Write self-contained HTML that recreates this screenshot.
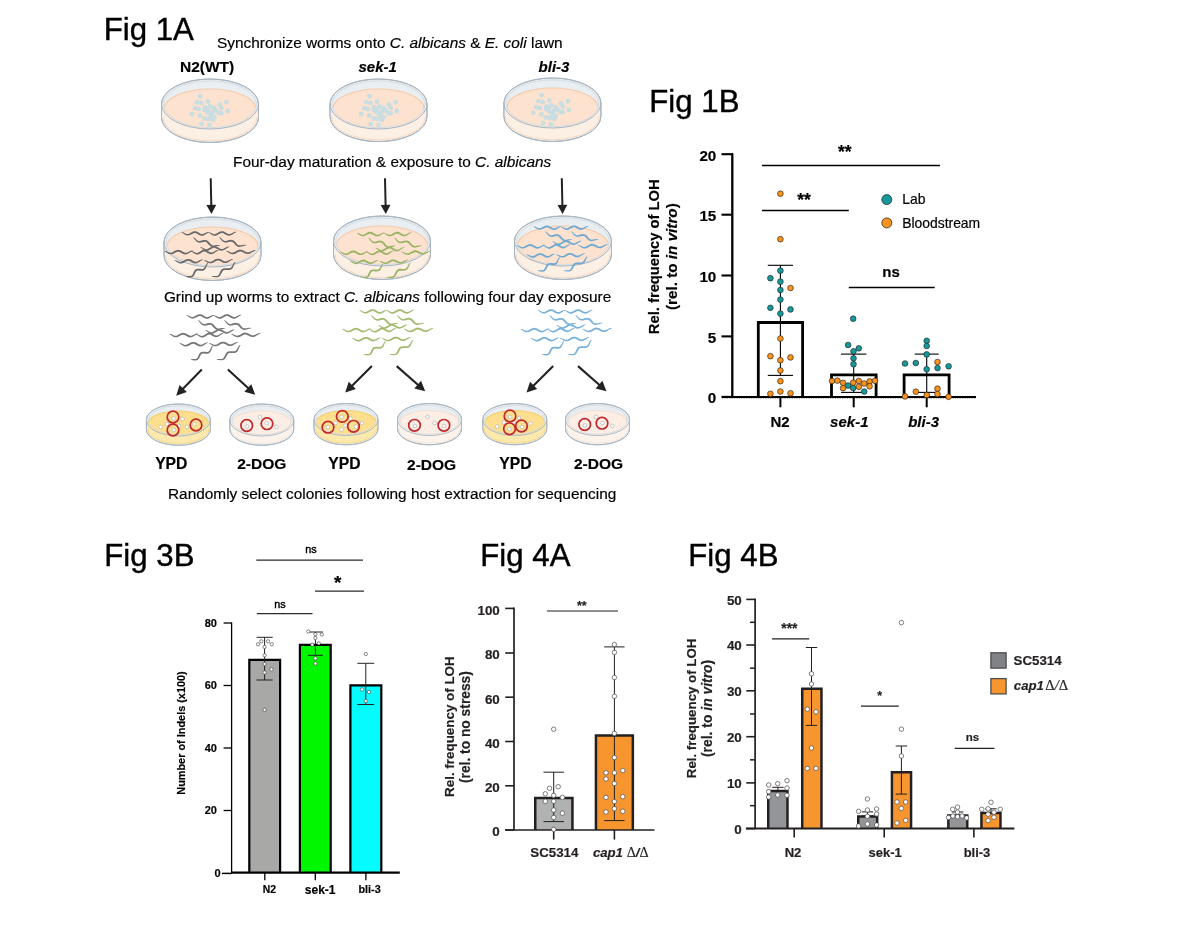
<!DOCTYPE html>
<html lang="en"><head><meta charset="utf-8"><title>Figure</title>
<style>
html,body{margin:0;padding:0;background:#fff;overflow:hidden}
svg{display:block}
text{font-family:"Liberation Sans",sans-serif;fill:#000;stroke:#000;stroke-width:.18px;paint-order:stroke}
.ttl{stroke-width:.4px}
.dg{fill:#231f20;stroke:#231f20}
.sb{stroke-width:.4px}
</style></head><body>
<svg width="1200" height="929" viewBox="0 0 1200 929">
<rect width="1200" height="929" fill="#fff"/>
<text x="103.7" y="39.8" font-size="31.2" class="ttl">Fig 1A</text>
<text x="217" y="47.6" font-size="15.4">Synchronize worms onto <tspan font-style="italic">C. albicans</tspan> &amp; <tspan font-style="italic">E. coli</tspan> lawn</text>
<text x="207.1" y="71.8" font-size="15.5" font-weight="bold" text-anchor="middle">N2(WT)</text>
<text x="377.7" y="71.5" font-size="15" font-weight="bold" font-style="italic" text-anchor="middle">sek-1</text>
<text x="554" y="71.5" font-size="15" font-weight="bold" font-style="italic" text-anchor="middle">bli-3</text>
<path d="M161.5 104 V117.5 A48.5 25 0 0 0 258.5 117.5 V104 A48.5 25 0 0 0 161.5 104 Z" fill="#e8eef1" stroke="#a9b5c0" stroke-width="1"/>
<path d="M162.4 104 A47.6 25 0 0 0 257.6 104 V117.2 A47.6 24.1 0 0 1 162.4 117.2 Z" fill="#fcefe4"/>
<path d="M163 117.2 A47 23.5 0 0 0 257 117.2" fill="none" stroke="#f7caa9" stroke-opacity="0.6" stroke-width="1"/>
<ellipse cx="210" cy="108.5" rx="45.5" ry="19.5" fill="#fde2cf"/>
<path d="M164.5 108.5 A45.5 19.5 0 0 1 255.5 108.5" fill="none" stroke="#f7caa9" stroke-width="1.2"/>
<g fill="#c6dce2" fill-opacity="0.92">
<circle cx="200.3" cy="96.2" r="2.4"/>
<circle cx="197" cy="102.2" r="2.4"/>
<circle cx="201.3" cy="103" r="2.4"/>
<circle cx="208" cy="101.5" r="2.4"/>
<circle cx="219.7" cy="104.5" r="2.4"/>
<circle cx="226.5" cy="102.2" r="2.4"/>
<circle cx="195" cy="108.2" r="2.4"/>
<circle cx="198.7" cy="109" r="2.4"/>
<circle cx="205" cy="107.5" r="2.4"/>
<circle cx="210" cy="106.5" r="2.4"/>
<circle cx="214" cy="108" r="2.4"/>
<circle cx="221.5" cy="107.8" r="2.4"/>
<circle cx="227.5" cy="111" r="2.4"/>
<circle cx="192" cy="114" r="2.4"/>
<circle cx="200" cy="115.5" r="2.4"/>
<circle cx="204.5" cy="110" r="2.4"/>
<circle cx="207.5" cy="112.5" r="2.4"/>
<circle cx="210.5" cy="114" r="2.4"/>
<circle cx="216" cy="110.5" r="2.4"/>
<circle cx="219" cy="113" r="2.4"/>
<circle cx="221.5" cy="113.2" r="2.4"/>
<circle cx="204.5" cy="118.5" r="2.4"/>
<circle cx="208.5" cy="119" r="2.4"/>
<circle cx="213" cy="120" r="2.4"/>
<circle cx="214.5" cy="117" r="2.4"/>
<circle cx="211" cy="116.5" r="2.4"/>
<circle cx="201.5" cy="124" r="2.4"/>
<circle cx="209.5" cy="125.2" r="2.4"/>
<circle cx="207.5" cy="109.5" r="2.4"/>
<circle cx="212.5" cy="112" r="2.4"/>
</g>
<ellipse cx="210" cy="104.3" rx="46.3" ry="23.4" fill="none" stroke="#d6dde2" stroke-width="1"/>
<ellipse cx="210" cy="104" rx="48.5" ry="25" fill="none" stroke="#a9b5c0" stroke-width="1"/>
<path d="M161.5 104 V117.5 A48.5 25 0 0 0 258.5 117.5 V104" fill="none" stroke="#a9b5c0" stroke-width="1"/>
<path d="M330 104 V116.6 A48.5 25 0 0 0 427 116.6 V104 A48.5 25 0 0 0 330 104 Z" fill="#e8eef1" stroke="#a9b5c0" stroke-width="1"/>
<path d="M330.9 104 A47.6 25 0 0 0 426.1 104 V116.3 A47.6 24.1 0 0 1 330.9 116.3 Z" fill="#fcefe4"/>
<path d="M331.5 116.3 A47 23.5 0 0 0 425.5 116.3" fill="none" stroke="#f7caa9" stroke-opacity="0.6" stroke-width="1"/>
<ellipse cx="378.5" cy="108.5" rx="45.5" ry="19.5" fill="#fde2cf"/>
<path d="M333 108.5 A45.5 19.5 0 0 1 424 108.5" fill="none" stroke="#f7caa9" stroke-width="1.2"/>
<g fill="#c6dce2" fill-opacity="0.92">
<circle cx="369.5" cy="96.2" r="2.4"/>
<circle cx="366.2" cy="102.2" r="2.4"/>
<circle cx="370.5" cy="103" r="2.4"/>
<circle cx="377.2" cy="101.5" r="2.4"/>
<circle cx="388.9" cy="104.5" r="2.4"/>
<circle cx="395.7" cy="102.2" r="2.4"/>
<circle cx="364.2" cy="108.2" r="2.4"/>
<circle cx="367.9" cy="109" r="2.4"/>
<circle cx="374.2" cy="107.5" r="2.4"/>
<circle cx="379.2" cy="106.5" r="2.4"/>
<circle cx="383.2" cy="108" r="2.4"/>
<circle cx="390.7" cy="107.8" r="2.4"/>
<circle cx="396.7" cy="111" r="2.4"/>
<circle cx="361.2" cy="114" r="2.4"/>
<circle cx="369.2" cy="115.5" r="2.4"/>
<circle cx="373.7" cy="110" r="2.4"/>
<circle cx="376.7" cy="112.5" r="2.4"/>
<circle cx="379.7" cy="114" r="2.4"/>
<circle cx="385.2" cy="110.5" r="2.4"/>
<circle cx="388.2" cy="113" r="2.4"/>
<circle cx="390.7" cy="113.2" r="2.4"/>
<circle cx="373.7" cy="118.5" r="2.4"/>
<circle cx="377.7" cy="119" r="2.4"/>
<circle cx="382.2" cy="120" r="2.4"/>
<circle cx="383.7" cy="117" r="2.4"/>
<circle cx="380.2" cy="116.5" r="2.4"/>
<circle cx="370.7" cy="124" r="2.4"/>
<circle cx="378.7" cy="125.2" r="2.4"/>
<circle cx="376.7" cy="109.5" r="2.4"/>
<circle cx="381.7" cy="112" r="2.4"/>
</g>
<ellipse cx="378.5" cy="104.3" rx="46.3" ry="23.4" fill="none" stroke="#d6dde2" stroke-width="1"/>
<ellipse cx="378.5" cy="104" rx="48.5" ry="25" fill="none" stroke="#a9b5c0" stroke-width="1"/>
<path d="M330 104 V116.6 A48.5 25 0 0 0 427 116.6 V104" fill="none" stroke="#a9b5c0" stroke-width="1"/>
<path d="M503.9 103 V116.5 A48.5 25 0 0 0 600.9 116.5 V103 A48.5 25 0 0 0 503.9 103 Z" fill="#e8eef1" stroke="#a9b5c0" stroke-width="1"/>
<path d="M504.8 103 A47.6 25 0 0 0 600 103 V116.2 A47.6 24.1 0 0 1 504.8 116.2 Z" fill="#fcefe4"/>
<path d="M505.4 116.2 A47 23.5 0 0 0 599.4 116.2" fill="none" stroke="#f7caa9" stroke-opacity="0.6" stroke-width="1"/>
<ellipse cx="552.4" cy="107.5" rx="45.5" ry="19.5" fill="#fde2cf"/>
<path d="M506.9 107.5 A45.5 19.5 0 0 1 597.9 107.5" fill="none" stroke="#f7caa9" stroke-width="1.2"/>
<g fill="#c6dce2" fill-opacity="0.92">
<circle cx="541.7" cy="95.2" r="2.4"/>
<circle cx="538.4" cy="101.2" r="2.4"/>
<circle cx="542.7" cy="102" r="2.4"/>
<circle cx="549.4" cy="100.5" r="2.4"/>
<circle cx="561.1" cy="103.5" r="2.4"/>
<circle cx="567.9" cy="101.2" r="2.4"/>
<circle cx="536.4" cy="107.2" r="2.4"/>
<circle cx="540.1" cy="108" r="2.4"/>
<circle cx="546.4" cy="106.5" r="2.4"/>
<circle cx="551.4" cy="105.5" r="2.4"/>
<circle cx="555.4" cy="107" r="2.4"/>
<circle cx="562.9" cy="106.8" r="2.4"/>
<circle cx="568.9" cy="110" r="2.4"/>
<circle cx="533.4" cy="113" r="2.4"/>
<circle cx="541.4" cy="114.5" r="2.4"/>
<circle cx="545.9" cy="109" r="2.4"/>
<circle cx="548.9" cy="111.5" r="2.4"/>
<circle cx="551.9" cy="113" r="2.4"/>
<circle cx="557.4" cy="109.5" r="2.4"/>
<circle cx="560.4" cy="112" r="2.4"/>
<circle cx="562.9" cy="112.2" r="2.4"/>
<circle cx="545.9" cy="117.5" r="2.4"/>
<circle cx="549.9" cy="118" r="2.4"/>
<circle cx="554.4" cy="119" r="2.4"/>
<circle cx="555.9" cy="116" r="2.4"/>
<circle cx="552.4" cy="115.5" r="2.4"/>
<circle cx="542.9" cy="123" r="2.4"/>
<circle cx="550.9" cy="124.2" r="2.4"/>
<circle cx="548.9" cy="108.5" r="2.4"/>
<circle cx="553.9" cy="111" r="2.4"/>
</g>
<ellipse cx="552.4" cy="103.3" rx="46.3" ry="23.4" fill="none" stroke="#d6dde2" stroke-width="1"/>
<ellipse cx="552.4" cy="103" rx="48.5" ry="25" fill="none" stroke="#a9b5c0" stroke-width="1"/>
<path d="M503.9 103 V116.5 A48.5 25 0 0 0 600.9 116.5 V103" fill="none" stroke="#a9b5c0" stroke-width="1"/>
<text x="233" y="167.4" font-size="15.4">Four-day maturation &amp; exposure to <tspan font-style="italic">C. albicans</tspan></text>
<line x1="210.7" y1="178.3" x2="211.32" y2="205.9" stroke="#222" stroke-width="2"/>
<polygon points="211.5,213.9 206.4,205.01 216.2,204.79" fill="#222"/>
<line x1="385" y1="178.3" x2="385.62" y2="205.9" stroke="#222" stroke-width="2"/>
<polygon points="385.8,213.9 380.7,205.01 390.5,204.79" fill="#222"/>
<line x1="561.8" y1="178.3" x2="562.42" y2="205.9" stroke="#222" stroke-width="2"/>
<polygon points="562.6,213.9 557.5,205.01 567.3,204.79" fill="#222"/>
<path d="M164 242 V255.5 A48.5 25 0 0 0 261 255.5 V242 A48.5 25 0 0 0 164 242 Z" fill="#e8eef1" stroke="#a9b5c0" stroke-width="1"/>
<path d="M164.9 242 A47.6 25 0 0 0 260.1 242 V255.2 A47.6 24.1 0 0 1 164.9 255.2 Z" fill="#fcefe4"/>
<path d="M165.5 255.2 A47 23.5 0 0 0 259.5 255.2" fill="none" stroke="#f7caa9" stroke-opacity="0.6" stroke-width="1"/>
<ellipse cx="212.5" cy="246.5" rx="45.5" ry="19.5" fill="#fde2cf"/>
<path d="M167 246.5 A45.5 19.5 0 0 1 258 246.5" fill="none" stroke="#f7caa9" stroke-width="1.2"/>
<ellipse cx="212.5" cy="242.3" rx="46.3" ry="23.4" fill="none" stroke="#d6dde2" stroke-width="1"/>
<ellipse cx="212.5" cy="242" rx="48.5" ry="25" fill="none" stroke="#a9b5c0" stroke-width="1"/>
<path d="M164 242 V255.5 A48.5 25 0 0 0 261 255.5 V242" fill="none" stroke="#a9b5c0" stroke-width="1"/>
<g fill="#68696b" transform="translate(-5 -83)">
<path d="M186.61 315.4L187.55 316.08L188.53 316.78L189.57 317.49L190.68 318.11L191.88 318.51L193.14 318.58L194.39 318.31L195.57 317.8L196.67 317.19L197.7 316.63L198.63 316.22L199.48 316.03L200.29 316.07L201.15 316.34L202.11 316.81L203.15 317.43L204.27 318.05L205.47 318.55L206.74 318.77L208.01 318.64L209.2 318.21L210.31 317.58L211.34 316.89L212.32 316.27L213.26 315.79L214.23 315.42L214.17 314.98L213.03 314.92L211.85 315.26L210.71 315.79L209.63 316.35L208.62 316.81L207.7 317.07L206.85 317.09L206.01 316.88L205.09 316.44L204.09 315.84L203.02 315.17L201.86 314.58L200.61 314.2L199.31 314.15L198.03 314.44L196.86 314.98L195.77 315.63L194.76 316.25L193.82 316.72L192.95 316.98L192.1 317.01L191.18 316.81L190.18 316.38L189.1 315.82L187.97 315.28L186.79 315Z"/>
<path d="M213.71 315.61L214.66 316.27L215.65 316.95L216.7 317.65L217.82 318.25L219.02 318.63L220.29 318.68L221.53 318.4L222.7 317.87L223.8 317.25L224.82 316.67L225.75 316.24L226.59 316.05L227.4 316.07L228.27 316.32L229.23 316.79L230.28 317.39L231.41 318L232.62 318.47L233.89 318.68L235.16 318.53L236.35 318.08L237.44 317.44L238.47 316.73L239.44 316.09L240.37 315.6L241.34 315.22L241.26 314.78L240.12 314.73L238.95 315.09L237.82 315.64L236.75 316.22L235.74 316.69L234.83 316.96L233.98 316.99L233.13 316.8L232.21 316.38L231.2 315.79L230.12 315.14L228.96 314.56L227.7 314.2L226.39 314.16L225.12 314.48L223.95 315.03L222.87 315.7L221.87 316.33L220.94 316.82L220.08 317.09L219.23 317.13L218.31 316.94L217.3 316.53L216.21 315.99L215.07 315.46L213.89 315.19Z"/>
<path d="M198.15 320.37L198.85 321.32L199.58 322.33L200.36 323.37L201.24 324.33L202.28 325.09L203.5 325.55L204.8 325.65L206.11 325.48L207.38 325.19L208.55 324.92L209.59 324.78L210.47 324.84L211.23 325.12L211.98 325.65L212.76 326.43L213.57 327.38L214.46 328.36L215.47 329.22L216.64 329.84L217.92 330.1L219.22 330.02L220.49 329.71L221.71 329.33L222.85 328.99L223.91 328.79L224.97 328.72L225.03 328.28L223.94 327.89L222.68 327.89L221.41 328.09L220.17 328.35L219.04 328.52L218.07 328.5L217.25 328.27L216.5 327.81L215.75 327.09L214.97 326.17L214.14 325.17L213.21 324.21L212.11 323.44L210.85 322.99L209.52 322.91L208.2 323.1L206.94 323.44L205.76 323.76L204.7 323.96L203.79 323.96L202.96 323.74L202.14 323.25L201.29 322.5L200.42 321.6L199.5 320.7L198.45 320.03Z"/>
<path d="M224.15 320.37L224.87 321.32L225.62 322.32L226.42 323.35L227.32 324.31L228.38 325.07L229.6 325.51L230.91 325.6L232.23 325.42L233.5 325.12L234.68 324.84L235.73 324.7L236.61 324.75L237.39 325.03L238.15 325.55L238.95 326.33L239.78 327.27L240.69 328.24L241.71 329.1L242.89 329.71L244.18 329.95L245.49 329.86L246.76 329.55L247.99 329.15L249.14 328.8L250.21 328.6L251.27 328.52L251.33 328.08L250.22 327.69L248.96 327.71L247.68 327.92L246.44 328.19L245.3 328.36L244.32 328.35L243.49 328.13L242.72 327.67L241.96 326.96L241.17 326.05L240.32 325.05L239.36 324.1L238.25 323.34L236.98 322.9L235.64 322.82L234.32 323.03L233.05 323.37L231.86 323.71L230.8 323.92L229.87 323.93L229.03 323.7L228.2 323.22L227.34 322.48L226.45 321.59L225.51 320.69L224.45 320.03Z"/>
<path d="M169.51 334.21L170.49 334.88L171.51 335.57L172.58 336.28L173.73 336.89L174.96 337.27L176.24 337.33L177.52 337.06L178.72 336.54L179.85 335.93L180.91 335.35L181.87 334.93L182.75 334.74L183.6 334.77L184.5 335.03L185.49 335.51L186.57 336.12L187.72 336.73L188.96 337.21L190.25 337.42L191.54 337.29L192.76 336.85L193.89 336.21L194.95 335.52L195.96 334.88L196.93 334.4L197.93 334.02L197.87 333.58L196.7 333.52L195.49 333.87L194.33 334.41L193.22 334.98L192.18 335.45L191.23 335.71L190.35 335.74L189.46 335.53L188.51 335.11L187.48 334.51L186.37 333.85L185.18 333.27L183.9 332.9L182.57 332.85L181.27 333.16L180.07 333.7L178.96 334.36L177.92 334.99L176.95 335.47L176.05 335.74L175.17 335.77L174.21 335.57L173.17 335.15L172.06 334.6L170.89 334.07L169.69 333.79Z"/>
<path d="M196.21 334.41L197.15 335.06L198.14 335.75L199.18 336.45L200.29 337.06L201.49 337.43L202.74 337.46L203.97 337.13L205.12 336.57L206.18 335.9L207.17 335.28L208.07 334.83L208.88 334.61L209.66 334.62L210.5 334.86L211.46 335.33L212.5 335.93L213.62 336.54L214.83 337.01L216.09 337.21L217.35 337.04L218.52 336.55L219.58 335.86L220.57 335.12L221.5 334.44L222.4 333.92L223.34 333.52L223.26 333.08L222.13 333.06L220.98 333.46L219.88 334.05L218.83 334.68L217.86 335.18L216.97 335.47L216.16 335.52L215.33 335.34L214.42 334.92L213.43 334.33L212.35 333.68L211.19 333.1L209.94 332.74L208.63 332.73L207.38 333.08L206.24 333.68L205.19 334.39L204.22 335.06L203.33 335.58L202.5 335.87L201.68 335.93L200.78 335.74L199.77 335.33L198.69 334.79L197.56 334.26L196.39 333.99Z"/>
<path d="M205.31 330.4L206.3 331.11L207.34 331.86L208.44 332.63L209.61 333.29L210.87 333.71L212.19 333.76L213.5 333.44L214.72 332.86L215.87 332.17L216.94 331.52L217.91 331.05L218.8 330.83L219.64 330.86L220.55 331.15L221.56 331.66L222.67 332.33L223.85 333.01L225.11 333.54L226.44 333.77L227.77 333.61L229.01 333.12L230.16 332.42L231.23 331.65L232.25 330.95L233.22 330.42L234.24 330.02L234.16 329.58L232.97 329.55L231.74 329.96L230.56 330.57L229.43 331.22L228.38 331.75L227.42 332.05L226.54 332.08L225.65 331.87L224.68 331.41L223.62 330.75L222.49 330.03L221.27 329.39L219.96 328.99L218.59 328.95L217.26 329.29L216.04 329.91L214.91 330.64L213.86 331.34L212.88 331.87L211.98 332.17L211.09 332.21L210.12 331.99L209.06 331.52L207.92 330.91L206.73 330.32L205.49 330Z"/>
<path d="M231.17 334.21L232.19 334.86L233.26 335.54L234.38 336.23L235.56 336.81L236.83 337.18L238.14 337.21L239.44 336.92L240.67 336.39L241.82 335.75L242.9 335.16L243.89 334.72L244.81 334.51L245.69 334.53L246.63 334.77L247.67 335.23L248.79 335.82L249.99 336.41L251.26 336.87L252.58 337.06L253.9 336.9L255.14 336.44L256.3 335.79L257.38 335.07L258.41 334.42L259.4 333.92L260.44 333.52L260.36 333.08L259.16 333.04L257.94 333.41L256.75 333.97L255.62 334.56L254.55 335.05L253.57 335.33L252.65 335.37L251.72 335.18L250.73 334.77L249.65 334.19L248.5 333.55L247.27 332.99L245.95 332.64L244.6 332.62L243.28 332.95L242.05 333.51L240.92 334.19L239.86 334.83L238.87 335.33L237.93 335.62L237.01 335.67L236.01 335.49L234.93 335.09L233.78 334.56L232.57 334.04L231.33 333.79Z"/>
<path d="M179.51 343.41L180.5 344.07L181.53 344.75L182.61 345.45L183.76 346.04L184.99 346.41L186.28 346.46L187.55 346.17L188.75 345.65L189.87 345.02L190.92 344.43L191.88 344L192.76 343.8L193.61 343.82L194.51 344.08L195.51 344.54L196.59 345.14L197.75 345.74L198.99 346.21L200.29 346.4L201.58 346.26L202.8 345.8L203.92 345.16L204.97 344.45L205.97 343.8L206.93 343.31L207.94 342.92L207.86 342.48L206.69 342.44L205.49 342.8L204.34 343.35L203.24 343.93L202.2 344.41L201.25 344.68L200.37 344.72L199.48 344.52L198.53 344.1L197.49 343.52L196.37 342.87L195.18 342.3L193.89 341.94L192.56 341.92L191.27 342.23L190.07 342.79L188.96 343.46L187.93 344.1L186.97 344.59L186.07 344.87L185.18 344.91L184.23 344.72L183.18 344.31L182.07 343.78L180.89 343.25L179.69 342.99Z"/>
<path d="M209.12 343.41L210.13 344.05L211.19 344.72L212.29 345.4L213.47 345.98L214.72 346.33L216.02 346.35L217.3 346.05L218.51 345.5L219.64 344.86L220.69 344.25L221.66 343.81L222.56 343.59L223.42 343.6L224.35 343.84L225.37 344.29L226.48 344.87L227.66 345.45L228.92 345.9L230.24 346.07L231.54 345.91L232.76 345.43L233.89 344.77L234.95 344.05L235.95 343.38L236.93 342.87L237.94 342.47L237.86 342.03L236.68 342.01L235.47 342.39L234.3 342.95L233.2 343.55L232.15 344.05L231.19 344.34L230.29 344.39L229.38 344.21L228.4 343.8L227.34 343.23L226.2 342.6L224.98 342.05L223.67 341.72L222.33 341.71L221.03 342.04L219.82 342.62L218.71 343.31L217.67 343.96L216.7 344.47L215.79 344.76L214.89 344.82L213.91 344.65L212.85 344.26L211.7 343.74L210.51 343.23L209.28 342.99Z"/>
<path d="M190.81 359.82L191.92 360.01L193.1 360.2L194.35 360.39L195.61 360.45L196.83 360.24L197.93 359.67L198.81 358.76L199.46 357.67L199.99 356.53L200.48 355.47L200.98 354.64L201.51 354.08L202.12 353.76L202.93 353.61L203.97 353.61L205.17 353.71L206.45 353.78L207.73 353.68L208.94 353.27L209.93 352.5L210.66 351.48L211.18 350.33L211.6 349.17L212.02 348.1L212.48 347.21L213.05 346.42L212.75 346.08L211.8 346.62L211.05 347.56L210.44 348.65L209.91 349.74L209.37 350.68L208.8 351.36L208.19 351.76L207.43 351.95L206.47 351.97L205.32 351.87L204.07 351.74L202.77 351.72L201.5 351.96L200.36 352.58L199.47 353.52L198.83 354.64L198.34 355.8L197.89 356.89L197.43 357.78L196.92 358.42L196.3 358.83L195.46 359.06L194.4 359.12L193.2 359.1L191.94 359.1L190.79 359.38Z"/>
<path d="M216.82 359.82L218 359.97L219.24 360.12L220.55 360.27L221.87 360.28L223.14 360.03L224.29 359.42L225.21 358.48L225.92 357.36L226.51 356.18L227.05 355.09L227.61 354.21L228.2 353.6L228.89 353.23L229.77 353.04L230.87 353.01L232.14 353.06L233.47 353.09L234.81 352.94L236.05 352.49L237.09 351.69L237.87 350.64L238.45 349.45L238.93 348.25L239.4 347.14L239.92 346.2L240.55 345.37L240.25 345.03L239.25 345.6L238.44 346.57L237.78 347.7L237.19 348.83L236.6 349.81L235.98 350.53L235.29 350.99L234.46 351.22L233.43 351.28L232.22 351.22L230.9 351.13L229.55 351.16L228.23 351.44L227.05 352.09L226.12 353.06L225.42 354.21L224.87 355.41L224.37 356.54L223.86 357.48L223.28 358.17L222.58 358.63L221.68 358.89L220.56 359L219.3 359.01L217.99 359.06L216.78 359.38Z"/>
</g>
<path d="M333.5 241 V254.5 A48.5 25 0 0 0 430.5 254.5 V241 A48.5 25 0 0 0 333.5 241 Z" fill="#e8eef1" stroke="#a9b5c0" stroke-width="1"/>
<path d="M334.4 241 A47.6 25 0 0 0 429.6 241 V254.2 A47.6 24.1 0 0 1 334.4 254.2 Z" fill="#fcefe4"/>
<path d="M335 254.2 A47 23.5 0 0 0 429 254.2" fill="none" stroke="#f7caa9" stroke-opacity="0.6" stroke-width="1"/>
<ellipse cx="382" cy="245.5" rx="45.5" ry="19.5" fill="#fde2cf"/>
<path d="M336.5 245.5 A45.5 19.5 0 0 1 427.5 245.5" fill="none" stroke="#f7caa9" stroke-width="1.2"/>
<ellipse cx="382" cy="241.3" rx="46.3" ry="23.4" fill="none" stroke="#d6dde2" stroke-width="1"/>
<ellipse cx="382" cy="241" rx="48.5" ry="25" fill="none" stroke="#a9b5c0" stroke-width="1"/>
<path d="M333.5 241 V254.5 A48.5 25 0 0 0 430.5 254.5 V241" fill="none" stroke="#a9b5c0" stroke-width="1"/>
<g fill="#9ab364" transform="translate(170.2 -82.33)">
<path d="M186.61 315.4L187.55 316.08L188.53 316.78L189.57 317.49L190.68 318.11L191.88 318.51L193.14 318.58L194.39 318.31L195.57 317.8L196.67 317.19L197.7 316.63L198.63 316.22L199.48 316.03L200.29 316.07L201.15 316.34L202.11 316.81L203.15 317.43L204.27 318.05L205.47 318.55L206.74 318.77L208.01 318.64L209.2 318.21L210.31 317.58L211.34 316.89L212.32 316.27L213.26 315.79L214.23 315.42L214.17 314.98L213.03 314.92L211.85 315.26L210.71 315.79L209.63 316.35L208.62 316.81L207.7 317.07L206.85 317.09L206.01 316.88L205.09 316.44L204.09 315.84L203.02 315.17L201.86 314.58L200.61 314.2L199.31 314.15L198.03 314.44L196.86 314.98L195.77 315.63L194.76 316.25L193.82 316.72L192.95 316.98L192.1 317.01L191.18 316.81L190.18 316.38L189.1 315.82L187.97 315.28L186.79 315Z"/>
<path d="M213.71 315.61L214.66 316.27L215.65 316.95L216.7 317.65L217.82 318.25L219.02 318.63L220.29 318.68L221.53 318.4L222.7 317.87L223.8 317.25L224.82 316.67L225.75 316.24L226.59 316.05L227.4 316.07L228.27 316.32L229.23 316.79L230.28 317.39L231.41 318L232.62 318.47L233.89 318.68L235.16 318.53L236.35 318.08L237.44 317.44L238.47 316.73L239.44 316.09L240.37 315.6L241.34 315.22L241.26 314.78L240.12 314.73L238.95 315.09L237.82 315.64L236.75 316.22L235.74 316.69L234.83 316.96L233.98 316.99L233.13 316.8L232.21 316.38L231.2 315.79L230.12 315.14L228.96 314.56L227.7 314.2L226.39 314.16L225.12 314.48L223.95 315.03L222.87 315.7L221.87 316.33L220.94 316.82L220.08 317.09L219.23 317.13L218.31 316.94L217.3 316.53L216.21 315.99L215.07 315.46L213.89 315.19Z"/>
<path d="M198.15 320.37L198.85 321.32L199.58 322.33L200.36 323.37L201.24 324.33L202.28 325.09L203.5 325.55L204.8 325.65L206.11 325.48L207.38 325.19L208.55 324.92L209.59 324.78L210.47 324.84L211.23 325.12L211.98 325.65L212.76 326.43L213.57 327.38L214.46 328.36L215.47 329.22L216.64 329.84L217.92 330.1L219.22 330.02L220.49 329.71L221.71 329.33L222.85 328.99L223.91 328.79L224.97 328.72L225.03 328.28L223.94 327.89L222.68 327.89L221.41 328.09L220.17 328.35L219.04 328.52L218.07 328.5L217.25 328.27L216.5 327.81L215.75 327.09L214.97 326.17L214.14 325.17L213.21 324.21L212.11 323.44L210.85 322.99L209.52 322.91L208.2 323.1L206.94 323.44L205.76 323.76L204.7 323.96L203.79 323.96L202.96 323.74L202.14 323.25L201.29 322.5L200.42 321.6L199.5 320.7L198.45 320.03Z"/>
<path d="M224.15 320.37L224.87 321.32L225.62 322.32L226.42 323.35L227.32 324.31L228.38 325.07L229.6 325.51L230.91 325.6L232.23 325.42L233.5 325.12L234.68 324.84L235.73 324.7L236.61 324.75L237.39 325.03L238.15 325.55L238.95 326.33L239.78 327.27L240.69 328.24L241.71 329.1L242.89 329.71L244.18 329.95L245.49 329.86L246.76 329.55L247.99 329.15L249.14 328.8L250.21 328.6L251.27 328.52L251.33 328.08L250.22 327.69L248.96 327.71L247.68 327.92L246.44 328.19L245.3 328.36L244.32 328.35L243.49 328.13L242.72 327.67L241.96 326.96L241.17 326.05L240.32 325.05L239.36 324.1L238.25 323.34L236.98 322.9L235.64 322.82L234.32 323.03L233.05 323.37L231.86 323.71L230.8 323.92L229.87 323.93L229.03 323.7L228.2 323.22L227.34 322.48L226.45 321.59L225.51 320.69L224.45 320.03Z"/>
<path d="M169.51 334.21L170.49 334.88L171.51 335.57L172.58 336.28L173.73 336.89L174.96 337.27L176.24 337.33L177.52 337.06L178.72 336.54L179.85 335.93L180.91 335.35L181.87 334.93L182.75 334.74L183.6 334.77L184.5 335.03L185.49 335.51L186.57 336.12L187.72 336.73L188.96 337.21L190.25 337.42L191.54 337.29L192.76 336.85L193.89 336.21L194.95 335.52L195.96 334.88L196.93 334.4L197.93 334.02L197.87 333.58L196.7 333.52L195.49 333.87L194.33 334.41L193.22 334.98L192.18 335.45L191.23 335.71L190.35 335.74L189.46 335.53L188.51 335.11L187.48 334.51L186.37 333.85L185.18 333.27L183.9 332.9L182.57 332.85L181.27 333.16L180.07 333.7L178.96 334.36L177.92 334.99L176.95 335.47L176.05 335.74L175.17 335.77L174.21 335.57L173.17 335.15L172.06 334.6L170.89 334.07L169.69 333.79Z"/>
<path d="M196.21 334.41L197.15 335.06L198.14 335.75L199.18 336.45L200.29 337.06L201.49 337.43L202.74 337.46L203.97 337.13L205.12 336.57L206.18 335.9L207.17 335.28L208.07 334.83L208.88 334.61L209.66 334.62L210.5 334.86L211.46 335.33L212.5 335.93L213.62 336.54L214.83 337.01L216.09 337.21L217.35 337.04L218.52 336.55L219.58 335.86L220.57 335.12L221.5 334.44L222.4 333.92L223.34 333.52L223.26 333.08L222.13 333.06L220.98 333.46L219.88 334.05L218.83 334.68L217.86 335.18L216.97 335.47L216.16 335.52L215.33 335.34L214.42 334.92L213.43 334.33L212.35 333.68L211.19 333.1L209.94 332.74L208.63 332.73L207.38 333.08L206.24 333.68L205.19 334.39L204.22 335.06L203.33 335.58L202.5 335.87L201.68 335.93L200.78 335.74L199.77 335.33L198.69 334.79L197.56 334.26L196.39 333.99Z"/>
<path d="M205.31 330.4L206.3 331.11L207.34 331.86L208.44 332.63L209.61 333.29L210.87 333.71L212.19 333.76L213.5 333.44L214.72 332.86L215.87 332.17L216.94 331.52L217.91 331.05L218.8 330.83L219.64 330.86L220.55 331.15L221.56 331.66L222.67 332.33L223.85 333.01L225.11 333.54L226.44 333.77L227.77 333.61L229.01 333.12L230.16 332.42L231.23 331.65L232.25 330.95L233.22 330.42L234.24 330.02L234.16 329.58L232.97 329.55L231.74 329.96L230.56 330.57L229.43 331.22L228.38 331.75L227.42 332.05L226.54 332.08L225.65 331.87L224.68 331.41L223.62 330.75L222.49 330.03L221.27 329.39L219.96 328.99L218.59 328.95L217.26 329.29L216.04 329.91L214.91 330.64L213.86 331.34L212.88 331.87L211.98 332.17L211.09 332.21L210.12 331.99L209.06 331.52L207.92 330.91L206.73 330.32L205.49 330Z"/>
<path d="M231.17 334.21L232.19 334.86L233.26 335.54L234.38 336.23L235.56 336.81L236.83 337.18L238.14 337.21L239.44 336.92L240.67 336.39L241.82 335.75L242.9 335.16L243.89 334.72L244.81 334.51L245.69 334.53L246.63 334.77L247.67 335.23L248.79 335.82L249.99 336.41L251.26 336.87L252.58 337.06L253.9 336.9L255.14 336.44L256.3 335.79L257.38 335.07L258.41 334.42L259.4 333.92L260.44 333.52L260.36 333.08L259.16 333.04L257.94 333.41L256.75 333.97L255.62 334.56L254.55 335.05L253.57 335.33L252.65 335.37L251.72 335.18L250.73 334.77L249.65 334.19L248.5 333.55L247.27 332.99L245.95 332.64L244.6 332.62L243.28 332.95L242.05 333.51L240.92 334.19L239.86 334.83L238.87 335.33L237.93 335.62L237.01 335.67L236.01 335.49L234.93 335.09L233.78 334.56L232.57 334.04L231.33 333.79Z"/>
<path d="M179.51 343.41L180.5 344.07L181.53 344.75L182.61 345.45L183.76 346.04L184.99 346.41L186.28 346.46L187.55 346.17L188.75 345.65L189.87 345.02L190.92 344.43L191.88 344L192.76 343.8L193.61 343.82L194.51 344.08L195.51 344.54L196.59 345.14L197.75 345.74L198.99 346.21L200.29 346.4L201.58 346.26L202.8 345.8L203.92 345.16L204.97 344.45L205.97 343.8L206.93 343.31L207.94 342.92L207.86 342.48L206.69 342.44L205.49 342.8L204.34 343.35L203.24 343.93L202.2 344.41L201.25 344.68L200.37 344.72L199.48 344.52L198.53 344.1L197.49 343.52L196.37 342.87L195.18 342.3L193.89 341.94L192.56 341.92L191.27 342.23L190.07 342.79L188.96 343.46L187.93 344.1L186.97 344.59L186.07 344.87L185.18 344.91L184.23 344.72L183.18 344.31L182.07 343.78L180.89 343.25L179.69 342.99Z"/>
<path d="M209.12 343.41L210.13 344.05L211.19 344.72L212.29 345.4L213.47 345.98L214.72 346.33L216.02 346.35L217.3 346.05L218.51 345.5L219.64 344.86L220.69 344.25L221.66 343.81L222.56 343.59L223.42 343.6L224.35 343.84L225.37 344.29L226.48 344.87L227.66 345.45L228.92 345.9L230.24 346.07L231.54 345.91L232.76 345.43L233.89 344.77L234.95 344.05L235.95 343.38L236.93 342.87L237.94 342.47L237.86 342.03L236.68 342.01L235.47 342.39L234.3 342.95L233.2 343.55L232.15 344.05L231.19 344.34L230.29 344.39L229.38 344.21L228.4 343.8L227.34 343.23L226.2 342.6L224.98 342.05L223.67 341.72L222.33 341.71L221.03 342.04L219.82 342.62L218.71 343.31L217.67 343.96L216.7 344.47L215.79 344.76L214.89 344.82L213.91 344.65L212.85 344.26L211.7 343.74L210.51 343.23L209.28 342.99Z"/>
<path d="M190.81 359.82L191.92 360.01L193.1 360.2L194.35 360.39L195.61 360.45L196.83 360.24L197.93 359.67L198.81 358.76L199.46 357.67L199.99 356.53L200.48 355.47L200.98 354.64L201.51 354.08L202.12 353.76L202.93 353.61L203.97 353.61L205.17 353.71L206.45 353.78L207.73 353.68L208.94 353.27L209.93 352.5L210.66 351.48L211.18 350.33L211.6 349.17L212.02 348.1L212.48 347.21L213.05 346.42L212.75 346.08L211.8 346.62L211.05 347.56L210.44 348.65L209.91 349.74L209.37 350.68L208.8 351.36L208.19 351.76L207.43 351.95L206.47 351.97L205.32 351.87L204.07 351.74L202.77 351.72L201.5 351.96L200.36 352.58L199.47 353.52L198.83 354.64L198.34 355.8L197.89 356.89L197.43 357.78L196.92 358.42L196.3 358.83L195.46 359.06L194.4 359.12L193.2 359.1L191.94 359.1L190.79 359.38Z"/>
<path d="M216.82 359.82L218 359.97L219.24 360.12L220.55 360.27L221.87 360.28L223.14 360.03L224.29 359.42L225.21 358.48L225.92 357.36L226.51 356.18L227.05 355.09L227.61 354.21L228.2 353.6L228.89 353.23L229.77 353.04L230.87 353.01L232.14 353.06L233.47 353.09L234.81 352.94L236.05 352.49L237.09 351.69L237.87 350.64L238.45 349.45L238.93 348.25L239.4 347.14L239.92 346.2L240.55 345.37L240.25 345.03L239.25 345.6L238.44 346.57L237.78 347.7L237.19 348.83L236.6 349.81L235.98 350.53L235.29 350.99L234.46 351.22L233.43 351.28L232.22 351.22L230.9 351.13L229.55 351.16L228.23 351.44L227.05 352.09L226.12 353.06L225.42 354.21L224.87 355.41L224.37 356.54L223.86 357.48L223.28 358.17L222.58 358.63L221.68 358.89L220.56 359L219.3 359.01L217.99 359.06L216.78 359.38Z"/>
</g>
<path d="M514.5 241 V254.5 A48.5 25 0 0 0 611.5 254.5 V241 A48.5 25 0 0 0 514.5 241 Z" fill="#e8eef1" stroke="#a9b5c0" stroke-width="1"/>
<path d="M515.4 241 A47.6 25 0 0 0 610.6 241 V254.2 A47.6 24.1 0 0 1 515.4 254.2 Z" fill="#fcefe4"/>
<path d="M516 254.2 A47 23.5 0 0 0 610 254.2" fill="none" stroke="#f7caa9" stroke-opacity="0.6" stroke-width="1"/>
<ellipse cx="563" cy="245.5" rx="45.5" ry="19.5" fill="#fde2cf"/>
<path d="M517.5 245.5 A45.5 19.5 0 0 1 608.5 245.5" fill="none" stroke="#f7caa9" stroke-width="1.2"/>
<ellipse cx="563" cy="241.3" rx="46.3" ry="23.4" fill="none" stroke="#d6dde2" stroke-width="1"/>
<ellipse cx="563" cy="241" rx="48.5" ry="25" fill="none" stroke="#a9b5c0" stroke-width="1"/>
<path d="M514.5 241 V254.5 A48.5 25 0 0 0 611.5 254.5 V241" fill="none" stroke="#a9b5c0" stroke-width="1"/>
<g fill="#6fa9d4" transform="translate(347 -88.75)">
<path d="M186.61 315.4L187.55 316.08L188.53 316.78L189.57 317.49L190.68 318.11L191.88 318.51L193.14 318.58L194.39 318.31L195.57 317.8L196.67 317.19L197.7 316.63L198.63 316.22L199.48 316.03L200.29 316.07L201.15 316.34L202.11 316.81L203.15 317.43L204.27 318.05L205.47 318.55L206.74 318.77L208.01 318.64L209.2 318.21L210.31 317.58L211.34 316.89L212.32 316.27L213.26 315.79L214.23 315.42L214.17 314.98L213.03 314.92L211.85 315.26L210.71 315.79L209.63 316.35L208.62 316.81L207.7 317.07L206.85 317.09L206.01 316.88L205.09 316.44L204.09 315.84L203.02 315.17L201.86 314.58L200.61 314.2L199.31 314.15L198.03 314.44L196.86 314.98L195.77 315.63L194.76 316.25L193.82 316.72L192.95 316.98L192.1 317.01L191.18 316.81L190.18 316.38L189.1 315.82L187.97 315.28L186.79 315Z"/>
<path d="M213.71 315.61L214.66 316.27L215.65 316.95L216.7 317.65L217.82 318.25L219.02 318.63L220.29 318.68L221.53 318.4L222.7 317.87L223.8 317.25L224.82 316.67L225.75 316.24L226.59 316.05L227.4 316.07L228.27 316.32L229.23 316.79L230.28 317.39L231.41 318L232.62 318.47L233.89 318.68L235.16 318.53L236.35 318.08L237.44 317.44L238.47 316.73L239.44 316.09L240.37 315.6L241.34 315.22L241.26 314.78L240.12 314.73L238.95 315.09L237.82 315.64L236.75 316.22L235.74 316.69L234.83 316.96L233.98 316.99L233.13 316.8L232.21 316.38L231.2 315.79L230.12 315.14L228.96 314.56L227.7 314.2L226.39 314.16L225.12 314.48L223.95 315.03L222.87 315.7L221.87 316.33L220.94 316.82L220.08 317.09L219.23 317.13L218.31 316.94L217.3 316.53L216.21 315.99L215.07 315.46L213.89 315.19Z"/>
<path d="M198.15 320.37L198.85 321.32L199.58 322.33L200.36 323.37L201.24 324.33L202.28 325.09L203.5 325.55L204.8 325.65L206.11 325.48L207.38 325.19L208.55 324.92L209.59 324.78L210.47 324.84L211.23 325.12L211.98 325.65L212.76 326.43L213.57 327.38L214.46 328.36L215.47 329.22L216.64 329.84L217.92 330.1L219.22 330.02L220.49 329.71L221.71 329.33L222.85 328.99L223.91 328.79L224.97 328.72L225.03 328.28L223.94 327.89L222.68 327.89L221.41 328.09L220.17 328.35L219.04 328.52L218.07 328.5L217.25 328.27L216.5 327.81L215.75 327.09L214.97 326.17L214.14 325.17L213.21 324.21L212.11 323.44L210.85 322.99L209.52 322.91L208.2 323.1L206.94 323.44L205.76 323.76L204.7 323.96L203.79 323.96L202.96 323.74L202.14 323.25L201.29 322.5L200.42 321.6L199.5 320.7L198.45 320.03Z"/>
<path d="M224.15 320.37L224.87 321.32L225.62 322.32L226.42 323.35L227.32 324.31L228.38 325.07L229.6 325.51L230.91 325.6L232.23 325.42L233.5 325.12L234.68 324.84L235.73 324.7L236.61 324.75L237.39 325.03L238.15 325.55L238.95 326.33L239.78 327.27L240.69 328.24L241.71 329.1L242.89 329.71L244.18 329.95L245.49 329.86L246.76 329.55L247.99 329.15L249.14 328.8L250.21 328.6L251.27 328.52L251.33 328.08L250.22 327.69L248.96 327.71L247.68 327.92L246.44 328.19L245.3 328.36L244.32 328.35L243.49 328.13L242.72 327.67L241.96 326.96L241.17 326.05L240.32 325.05L239.36 324.1L238.25 323.34L236.98 322.9L235.64 322.82L234.32 323.03L233.05 323.37L231.86 323.71L230.8 323.92L229.87 323.93L229.03 323.7L228.2 323.22L227.34 322.48L226.45 321.59L225.51 320.69L224.45 320.03Z"/>
<path d="M169.51 334.21L170.49 334.88L171.51 335.57L172.58 336.28L173.73 336.89L174.96 337.27L176.24 337.33L177.52 337.06L178.72 336.54L179.85 335.93L180.91 335.35L181.87 334.93L182.75 334.74L183.6 334.77L184.5 335.03L185.49 335.51L186.57 336.12L187.72 336.73L188.96 337.21L190.25 337.42L191.54 337.29L192.76 336.85L193.89 336.21L194.95 335.52L195.96 334.88L196.93 334.4L197.93 334.02L197.87 333.58L196.7 333.52L195.49 333.87L194.33 334.41L193.22 334.98L192.18 335.45L191.23 335.71L190.35 335.74L189.46 335.53L188.51 335.11L187.48 334.51L186.37 333.85L185.18 333.27L183.9 332.9L182.57 332.85L181.27 333.16L180.07 333.7L178.96 334.36L177.92 334.99L176.95 335.47L176.05 335.74L175.17 335.77L174.21 335.57L173.17 335.15L172.06 334.6L170.89 334.07L169.69 333.79Z"/>
<path d="M196.21 334.41L197.15 335.06L198.14 335.75L199.18 336.45L200.29 337.06L201.49 337.43L202.74 337.46L203.97 337.13L205.12 336.57L206.18 335.9L207.17 335.28L208.07 334.83L208.88 334.61L209.66 334.62L210.5 334.86L211.46 335.33L212.5 335.93L213.62 336.54L214.83 337.01L216.09 337.21L217.35 337.04L218.52 336.55L219.58 335.86L220.57 335.12L221.5 334.44L222.4 333.92L223.34 333.52L223.26 333.08L222.13 333.06L220.98 333.46L219.88 334.05L218.83 334.68L217.86 335.18L216.97 335.47L216.16 335.52L215.33 335.34L214.42 334.92L213.43 334.33L212.35 333.68L211.19 333.1L209.94 332.74L208.63 332.73L207.38 333.08L206.24 333.68L205.19 334.39L204.22 335.06L203.33 335.58L202.5 335.87L201.68 335.93L200.78 335.74L199.77 335.33L198.69 334.79L197.56 334.26L196.39 333.99Z"/>
<path d="M205.31 330.4L206.3 331.11L207.34 331.86L208.44 332.63L209.61 333.29L210.87 333.71L212.19 333.76L213.5 333.44L214.72 332.86L215.87 332.17L216.94 331.52L217.91 331.05L218.8 330.83L219.64 330.86L220.55 331.15L221.56 331.66L222.67 332.33L223.85 333.01L225.11 333.54L226.44 333.77L227.77 333.61L229.01 333.12L230.16 332.42L231.23 331.65L232.25 330.95L233.22 330.42L234.24 330.02L234.16 329.58L232.97 329.55L231.74 329.96L230.56 330.57L229.43 331.22L228.38 331.75L227.42 332.05L226.54 332.08L225.65 331.87L224.68 331.41L223.62 330.75L222.49 330.03L221.27 329.39L219.96 328.99L218.59 328.95L217.26 329.29L216.04 329.91L214.91 330.64L213.86 331.34L212.88 331.87L211.98 332.17L211.09 332.21L210.12 331.99L209.06 331.52L207.92 330.91L206.73 330.32L205.49 330Z"/>
<path d="M231.17 334.21L232.19 334.86L233.26 335.54L234.38 336.23L235.56 336.81L236.83 337.18L238.14 337.21L239.44 336.92L240.67 336.39L241.82 335.75L242.9 335.16L243.89 334.72L244.81 334.51L245.69 334.53L246.63 334.77L247.67 335.23L248.79 335.82L249.99 336.41L251.26 336.87L252.58 337.06L253.9 336.9L255.14 336.44L256.3 335.79L257.38 335.07L258.41 334.42L259.4 333.92L260.44 333.52L260.36 333.08L259.16 333.04L257.94 333.41L256.75 333.97L255.62 334.56L254.55 335.05L253.57 335.33L252.65 335.37L251.72 335.18L250.73 334.77L249.65 334.19L248.5 333.55L247.27 332.99L245.95 332.64L244.6 332.62L243.28 332.95L242.05 333.51L240.92 334.19L239.86 334.83L238.87 335.33L237.93 335.62L237.01 335.67L236.01 335.49L234.93 335.09L233.78 334.56L232.57 334.04L231.33 333.79Z"/>
<path d="M179.51 343.41L180.5 344.07L181.53 344.75L182.61 345.45L183.76 346.04L184.99 346.41L186.28 346.46L187.55 346.17L188.75 345.65L189.87 345.02L190.92 344.43L191.88 344L192.76 343.8L193.61 343.82L194.51 344.08L195.51 344.54L196.59 345.14L197.75 345.74L198.99 346.21L200.29 346.4L201.58 346.26L202.8 345.8L203.92 345.16L204.97 344.45L205.97 343.8L206.93 343.31L207.94 342.92L207.86 342.48L206.69 342.44L205.49 342.8L204.34 343.35L203.24 343.93L202.2 344.41L201.25 344.68L200.37 344.72L199.48 344.52L198.53 344.1L197.49 343.52L196.37 342.87L195.18 342.3L193.89 341.94L192.56 341.92L191.27 342.23L190.07 342.79L188.96 343.46L187.93 344.1L186.97 344.59L186.07 344.87L185.18 344.91L184.23 344.72L183.18 344.31L182.07 343.78L180.89 343.25L179.69 342.99Z"/>
<path d="M209.12 343.41L210.13 344.05L211.19 344.72L212.29 345.4L213.47 345.98L214.72 346.33L216.02 346.35L217.3 346.05L218.51 345.5L219.64 344.86L220.69 344.25L221.66 343.81L222.56 343.59L223.42 343.6L224.35 343.84L225.37 344.29L226.48 344.87L227.66 345.45L228.92 345.9L230.24 346.07L231.54 345.91L232.76 345.43L233.89 344.77L234.95 344.05L235.95 343.38L236.93 342.87L237.94 342.47L237.86 342.03L236.68 342.01L235.47 342.39L234.3 342.95L233.2 343.55L232.15 344.05L231.19 344.34L230.29 344.39L229.38 344.21L228.4 343.8L227.34 343.23L226.2 342.6L224.98 342.05L223.67 341.72L222.33 341.71L221.03 342.04L219.82 342.62L218.71 343.31L217.67 343.96L216.7 344.47L215.79 344.76L214.89 344.82L213.91 344.65L212.85 344.26L211.7 343.74L210.51 343.23L209.28 342.99Z"/>
<path d="M190.81 359.82L191.92 360.01L193.1 360.2L194.35 360.39L195.61 360.45L196.83 360.24L197.93 359.67L198.81 358.76L199.46 357.67L199.99 356.53L200.48 355.47L200.98 354.64L201.51 354.08L202.12 353.76L202.93 353.61L203.97 353.61L205.17 353.71L206.45 353.78L207.73 353.68L208.94 353.27L209.93 352.5L210.66 351.48L211.18 350.33L211.6 349.17L212.02 348.1L212.48 347.21L213.05 346.42L212.75 346.08L211.8 346.62L211.05 347.56L210.44 348.65L209.91 349.74L209.37 350.68L208.8 351.36L208.19 351.76L207.43 351.95L206.47 351.97L205.32 351.87L204.07 351.74L202.77 351.72L201.5 351.96L200.36 352.58L199.47 353.52L198.83 354.64L198.34 355.8L197.89 356.89L197.43 357.78L196.92 358.42L196.3 358.83L195.46 359.06L194.4 359.12L193.2 359.1L191.94 359.1L190.79 359.38Z"/>
<path d="M216.82 359.82L218 359.97L219.24 360.12L220.55 360.27L221.87 360.28L223.14 360.03L224.29 359.42L225.21 358.48L225.92 357.36L226.51 356.18L227.05 355.09L227.61 354.21L228.2 353.6L228.89 353.23L229.77 353.04L230.87 353.01L232.14 353.06L233.47 353.09L234.81 352.94L236.05 352.49L237.09 351.69L237.87 350.64L238.45 349.45L238.93 348.25L239.4 347.14L239.92 346.2L240.55 345.37L240.25 345.03L239.25 345.6L238.44 346.57L237.78 347.7L237.19 348.83L236.6 349.81L235.98 350.53L235.29 350.99L234.46 351.22L233.43 351.28L232.22 351.22L230.9 351.13L229.55 351.16L228.23 351.44L227.05 352.09L226.12 353.06L225.42 354.21L224.87 355.41L224.37 356.54L223.86 357.48L223.28 358.17L222.58 358.63L221.68 358.89L220.56 359L219.3 359.01L217.99 359.06L216.78 359.38Z"/>
</g>
<text x="163.9" y="301.8" font-size="15.37">Grind up worms to extract <tspan font-style="italic">C. albicans</tspan> following four day exposure</text>
<g fill="#757678" transform="translate(0 0)">
<path d="M186.61 315.4L187.55 316.08L188.53 316.78L189.57 317.49L190.68 318.11L191.88 318.51L193.14 318.58L194.39 318.31L195.57 317.8L196.67 317.19L197.7 316.63L198.63 316.22L199.48 316.03L200.29 316.07L201.15 316.34L202.11 316.81L203.15 317.43L204.27 318.05L205.47 318.55L206.74 318.77L208.01 318.64L209.2 318.21L210.31 317.58L211.34 316.89L212.32 316.27L213.26 315.79L214.23 315.42L214.17 314.98L213.03 314.92L211.85 315.26L210.71 315.79L209.63 316.35L208.62 316.81L207.7 317.07L206.85 317.09L206.01 316.88L205.09 316.44L204.09 315.84L203.02 315.17L201.86 314.58L200.61 314.2L199.31 314.15L198.03 314.44L196.86 314.98L195.77 315.63L194.76 316.25L193.82 316.72L192.95 316.98L192.1 317.01L191.18 316.81L190.18 316.38L189.1 315.82L187.97 315.28L186.79 315Z"/>
<path d="M213.71 315.61L214.66 316.27L215.65 316.95L216.7 317.65L217.82 318.25L219.02 318.63L220.29 318.68L221.53 318.4L222.7 317.87L223.8 317.25L224.82 316.67L225.75 316.24L226.59 316.05L227.4 316.07L228.27 316.32L229.23 316.79L230.28 317.39L231.41 318L232.62 318.47L233.89 318.68L235.16 318.53L236.35 318.08L237.44 317.44L238.47 316.73L239.44 316.09L240.37 315.6L241.34 315.22L241.26 314.78L240.12 314.73L238.95 315.09L237.82 315.64L236.75 316.22L235.74 316.69L234.83 316.96L233.98 316.99L233.13 316.8L232.21 316.38L231.2 315.79L230.12 315.14L228.96 314.56L227.7 314.2L226.39 314.16L225.12 314.48L223.95 315.03L222.87 315.7L221.87 316.33L220.94 316.82L220.08 317.09L219.23 317.13L218.31 316.94L217.3 316.53L216.21 315.99L215.07 315.46L213.89 315.19Z"/>
<path d="M198.15 320.37L198.85 321.32L199.58 322.33L200.36 323.37L201.24 324.33L202.28 325.09L203.5 325.55L204.8 325.65L206.11 325.48L207.38 325.19L208.55 324.92L209.59 324.78L210.47 324.84L211.23 325.12L211.98 325.65L212.76 326.43L213.57 327.38L214.46 328.36L215.47 329.22L216.64 329.84L217.92 330.1L219.22 330.02L220.49 329.71L221.71 329.33L222.85 328.99L223.91 328.79L224.97 328.72L225.03 328.28L223.94 327.89L222.68 327.89L221.41 328.09L220.17 328.35L219.04 328.52L218.07 328.5L217.25 328.27L216.5 327.81L215.75 327.09L214.97 326.17L214.14 325.17L213.21 324.21L212.11 323.44L210.85 322.99L209.52 322.91L208.2 323.1L206.94 323.44L205.76 323.76L204.7 323.96L203.79 323.96L202.96 323.74L202.14 323.25L201.29 322.5L200.42 321.6L199.5 320.7L198.45 320.03Z"/>
<path d="M224.15 320.37L224.87 321.32L225.62 322.32L226.42 323.35L227.32 324.31L228.38 325.07L229.6 325.51L230.91 325.6L232.23 325.42L233.5 325.12L234.68 324.84L235.73 324.7L236.61 324.75L237.39 325.03L238.15 325.55L238.95 326.33L239.78 327.27L240.69 328.24L241.71 329.1L242.89 329.71L244.18 329.95L245.49 329.86L246.76 329.55L247.99 329.15L249.14 328.8L250.21 328.6L251.27 328.52L251.33 328.08L250.22 327.69L248.96 327.71L247.68 327.92L246.44 328.19L245.3 328.36L244.32 328.35L243.49 328.13L242.72 327.67L241.96 326.96L241.17 326.05L240.32 325.05L239.36 324.1L238.25 323.34L236.98 322.9L235.64 322.82L234.32 323.03L233.05 323.37L231.86 323.71L230.8 323.92L229.87 323.93L229.03 323.7L228.2 323.22L227.34 322.48L226.45 321.59L225.51 320.69L224.45 320.03Z"/>
<path d="M169.51 334.21L170.49 334.88L171.51 335.57L172.58 336.28L173.73 336.89L174.96 337.27L176.24 337.33L177.52 337.06L178.72 336.54L179.85 335.93L180.91 335.35L181.87 334.93L182.75 334.74L183.6 334.77L184.5 335.03L185.49 335.51L186.57 336.12L187.72 336.73L188.96 337.21L190.25 337.42L191.54 337.29L192.76 336.85L193.89 336.21L194.95 335.52L195.96 334.88L196.93 334.4L197.93 334.02L197.87 333.58L196.7 333.52L195.49 333.87L194.33 334.41L193.22 334.98L192.18 335.45L191.23 335.71L190.35 335.74L189.46 335.53L188.51 335.11L187.48 334.51L186.37 333.85L185.18 333.27L183.9 332.9L182.57 332.85L181.27 333.16L180.07 333.7L178.96 334.36L177.92 334.99L176.95 335.47L176.05 335.74L175.17 335.77L174.21 335.57L173.17 335.15L172.06 334.6L170.89 334.07L169.69 333.79Z"/>
<path d="M196.21 334.41L197.15 335.06L198.14 335.75L199.18 336.45L200.29 337.06L201.49 337.43L202.74 337.46L203.97 337.13L205.12 336.57L206.18 335.9L207.17 335.28L208.07 334.83L208.88 334.61L209.66 334.62L210.5 334.86L211.46 335.33L212.5 335.93L213.62 336.54L214.83 337.01L216.09 337.21L217.35 337.04L218.52 336.55L219.58 335.86L220.57 335.12L221.5 334.44L222.4 333.92L223.34 333.52L223.26 333.08L222.13 333.06L220.98 333.46L219.88 334.05L218.83 334.68L217.86 335.18L216.97 335.47L216.16 335.52L215.33 335.34L214.42 334.92L213.43 334.33L212.35 333.68L211.19 333.1L209.94 332.74L208.63 332.73L207.38 333.08L206.24 333.68L205.19 334.39L204.22 335.06L203.33 335.58L202.5 335.87L201.68 335.93L200.78 335.74L199.77 335.33L198.69 334.79L197.56 334.26L196.39 333.99Z"/>
<path d="M205.31 330.4L206.3 331.11L207.34 331.86L208.44 332.63L209.61 333.29L210.87 333.71L212.19 333.76L213.5 333.44L214.72 332.86L215.87 332.17L216.94 331.52L217.91 331.05L218.8 330.83L219.64 330.86L220.55 331.15L221.56 331.66L222.67 332.33L223.85 333.01L225.11 333.54L226.44 333.77L227.77 333.61L229.01 333.12L230.16 332.42L231.23 331.65L232.25 330.95L233.22 330.42L234.24 330.02L234.16 329.58L232.97 329.55L231.74 329.96L230.56 330.57L229.43 331.22L228.38 331.75L227.42 332.05L226.54 332.08L225.65 331.87L224.68 331.41L223.62 330.75L222.49 330.03L221.27 329.39L219.96 328.99L218.59 328.95L217.26 329.29L216.04 329.91L214.91 330.64L213.86 331.34L212.88 331.87L211.98 332.17L211.09 332.21L210.12 331.99L209.06 331.52L207.92 330.91L206.73 330.32L205.49 330Z"/>
<path d="M231.17 334.21L232.19 334.86L233.26 335.54L234.38 336.23L235.56 336.81L236.83 337.18L238.14 337.21L239.44 336.92L240.67 336.39L241.82 335.75L242.9 335.16L243.89 334.72L244.81 334.51L245.69 334.53L246.63 334.77L247.67 335.23L248.79 335.82L249.99 336.41L251.26 336.87L252.58 337.06L253.9 336.9L255.14 336.44L256.3 335.79L257.38 335.07L258.41 334.42L259.4 333.92L260.44 333.52L260.36 333.08L259.16 333.04L257.94 333.41L256.75 333.97L255.62 334.56L254.55 335.05L253.57 335.33L252.65 335.37L251.72 335.18L250.73 334.77L249.65 334.19L248.5 333.55L247.27 332.99L245.95 332.64L244.6 332.62L243.28 332.95L242.05 333.51L240.92 334.19L239.86 334.83L238.87 335.33L237.93 335.62L237.01 335.67L236.01 335.49L234.93 335.09L233.78 334.56L232.57 334.04L231.33 333.79Z"/>
<path d="M179.51 343.41L180.5 344.07L181.53 344.75L182.61 345.45L183.76 346.04L184.99 346.41L186.28 346.46L187.55 346.17L188.75 345.65L189.87 345.02L190.92 344.43L191.88 344L192.76 343.8L193.61 343.82L194.51 344.08L195.51 344.54L196.59 345.14L197.75 345.74L198.99 346.21L200.29 346.4L201.58 346.26L202.8 345.8L203.92 345.16L204.97 344.45L205.97 343.8L206.93 343.31L207.94 342.92L207.86 342.48L206.69 342.44L205.49 342.8L204.34 343.35L203.24 343.93L202.2 344.41L201.25 344.68L200.37 344.72L199.48 344.52L198.53 344.1L197.49 343.52L196.37 342.87L195.18 342.3L193.89 341.94L192.56 341.92L191.27 342.23L190.07 342.79L188.96 343.46L187.93 344.1L186.97 344.59L186.07 344.87L185.18 344.91L184.23 344.72L183.18 344.31L182.07 343.78L180.89 343.25L179.69 342.99Z"/>
<path d="M209.12 343.41L210.13 344.05L211.19 344.72L212.29 345.4L213.47 345.98L214.72 346.33L216.02 346.35L217.3 346.05L218.51 345.5L219.64 344.86L220.69 344.25L221.66 343.81L222.56 343.59L223.42 343.6L224.35 343.84L225.37 344.29L226.48 344.87L227.66 345.45L228.92 345.9L230.24 346.07L231.54 345.91L232.76 345.43L233.89 344.77L234.95 344.05L235.95 343.38L236.93 342.87L237.94 342.47L237.86 342.03L236.68 342.01L235.47 342.39L234.3 342.95L233.2 343.55L232.15 344.05L231.19 344.34L230.29 344.39L229.38 344.21L228.4 343.8L227.34 343.23L226.2 342.6L224.98 342.05L223.67 341.72L222.33 341.71L221.03 342.04L219.82 342.62L218.71 343.31L217.67 343.96L216.7 344.47L215.79 344.76L214.89 344.82L213.91 344.65L212.85 344.26L211.7 343.74L210.51 343.23L209.28 342.99Z"/>
<path d="M190.81 359.82L191.92 360.01L193.1 360.2L194.35 360.39L195.61 360.45L196.83 360.24L197.93 359.67L198.81 358.76L199.46 357.67L199.99 356.53L200.48 355.47L200.98 354.64L201.51 354.08L202.12 353.76L202.93 353.61L203.97 353.61L205.17 353.71L206.45 353.78L207.73 353.68L208.94 353.27L209.93 352.5L210.66 351.48L211.18 350.33L211.6 349.17L212.02 348.1L212.48 347.21L213.05 346.42L212.75 346.08L211.8 346.62L211.05 347.56L210.44 348.65L209.91 349.74L209.37 350.68L208.8 351.36L208.19 351.76L207.43 351.95L206.47 351.97L205.32 351.87L204.07 351.74L202.77 351.72L201.5 351.96L200.36 352.58L199.47 353.52L198.83 354.64L198.34 355.8L197.89 356.89L197.43 357.78L196.92 358.42L196.3 358.83L195.46 359.06L194.4 359.12L193.2 359.1L191.94 359.1L190.79 359.38Z"/>
<path d="M216.82 359.82L218 359.97L219.24 360.12L220.55 360.27L221.87 360.28L223.14 360.03L224.29 359.42L225.21 358.48L225.92 357.36L226.51 356.18L227.05 355.09L227.61 354.21L228.2 353.6L228.89 353.23L229.77 353.04L230.87 353.01L232.14 353.06L233.47 353.09L234.81 352.94L236.05 352.49L237.09 351.69L237.87 350.64L238.45 349.45L238.93 348.25L239.4 347.14L239.92 346.2L240.55 345.37L240.25 345.03L239.25 345.6L238.44 346.57L237.78 347.7L237.19 348.83L236.6 349.81L235.98 350.53L235.29 350.99L234.46 351.22L233.43 351.28L232.22 351.22L230.9 351.13L229.55 351.16L228.23 351.44L227.05 352.09L226.12 353.06L225.42 354.21L224.87 355.41L224.37 356.54L223.86 357.48L223.28 358.17L222.58 358.63L221.68 358.89L220.56 359L219.3 359.01L217.99 359.06L216.78 359.38Z"/>
</g>
<g fill="#a3ba6f" transform="translate(172.8 -5)">
<path d="M186.61 315.4L187.55 316.08L188.53 316.78L189.57 317.49L190.68 318.11L191.88 318.51L193.14 318.58L194.39 318.31L195.57 317.8L196.67 317.19L197.7 316.63L198.63 316.22L199.48 316.03L200.29 316.07L201.15 316.34L202.11 316.81L203.15 317.43L204.27 318.05L205.47 318.55L206.74 318.77L208.01 318.64L209.2 318.21L210.31 317.58L211.34 316.89L212.32 316.27L213.26 315.79L214.23 315.42L214.17 314.98L213.03 314.92L211.85 315.26L210.71 315.79L209.63 316.35L208.62 316.81L207.7 317.07L206.85 317.09L206.01 316.88L205.09 316.44L204.09 315.84L203.02 315.17L201.86 314.58L200.61 314.2L199.31 314.15L198.03 314.44L196.86 314.98L195.77 315.63L194.76 316.25L193.82 316.72L192.95 316.98L192.1 317.01L191.18 316.81L190.18 316.38L189.1 315.82L187.97 315.28L186.79 315Z"/>
<path d="M213.71 315.61L214.66 316.27L215.65 316.95L216.7 317.65L217.82 318.25L219.02 318.63L220.29 318.68L221.53 318.4L222.7 317.87L223.8 317.25L224.82 316.67L225.75 316.24L226.59 316.05L227.4 316.07L228.27 316.32L229.23 316.79L230.28 317.39L231.41 318L232.62 318.47L233.89 318.68L235.16 318.53L236.35 318.08L237.44 317.44L238.47 316.73L239.44 316.09L240.37 315.6L241.34 315.22L241.26 314.78L240.12 314.73L238.95 315.09L237.82 315.64L236.75 316.22L235.74 316.69L234.83 316.96L233.98 316.99L233.13 316.8L232.21 316.38L231.2 315.79L230.12 315.14L228.96 314.56L227.7 314.2L226.39 314.16L225.12 314.48L223.95 315.03L222.87 315.7L221.87 316.33L220.94 316.82L220.08 317.09L219.23 317.13L218.31 316.94L217.3 316.53L216.21 315.99L215.07 315.46L213.89 315.19Z"/>
<path d="M198.15 320.37L198.85 321.32L199.58 322.33L200.36 323.37L201.24 324.33L202.28 325.09L203.5 325.55L204.8 325.65L206.11 325.48L207.38 325.19L208.55 324.92L209.59 324.78L210.47 324.84L211.23 325.12L211.98 325.65L212.76 326.43L213.57 327.38L214.46 328.36L215.47 329.22L216.64 329.84L217.92 330.1L219.22 330.02L220.49 329.71L221.71 329.33L222.85 328.99L223.91 328.79L224.97 328.72L225.03 328.28L223.94 327.89L222.68 327.89L221.41 328.09L220.17 328.35L219.04 328.52L218.07 328.5L217.25 328.27L216.5 327.81L215.75 327.09L214.97 326.17L214.14 325.17L213.21 324.21L212.11 323.44L210.85 322.99L209.52 322.91L208.2 323.1L206.94 323.44L205.76 323.76L204.7 323.96L203.79 323.96L202.96 323.74L202.14 323.25L201.29 322.5L200.42 321.6L199.5 320.7L198.45 320.03Z"/>
<path d="M224.15 320.37L224.87 321.32L225.62 322.32L226.42 323.35L227.32 324.31L228.38 325.07L229.6 325.51L230.91 325.6L232.23 325.42L233.5 325.12L234.68 324.84L235.73 324.7L236.61 324.75L237.39 325.03L238.15 325.55L238.95 326.33L239.78 327.27L240.69 328.24L241.71 329.1L242.89 329.71L244.18 329.95L245.49 329.86L246.76 329.55L247.99 329.15L249.14 328.8L250.21 328.6L251.27 328.52L251.33 328.08L250.22 327.69L248.96 327.71L247.68 327.92L246.44 328.19L245.3 328.36L244.32 328.35L243.49 328.13L242.72 327.67L241.96 326.96L241.17 326.05L240.32 325.05L239.36 324.1L238.25 323.34L236.98 322.9L235.64 322.82L234.32 323.03L233.05 323.37L231.86 323.71L230.8 323.92L229.87 323.93L229.03 323.7L228.2 323.22L227.34 322.48L226.45 321.59L225.51 320.69L224.45 320.03Z"/>
<path d="M169.51 334.21L170.49 334.88L171.51 335.57L172.58 336.28L173.73 336.89L174.96 337.27L176.24 337.33L177.52 337.06L178.72 336.54L179.85 335.93L180.91 335.35L181.87 334.93L182.75 334.74L183.6 334.77L184.5 335.03L185.49 335.51L186.57 336.12L187.72 336.73L188.96 337.21L190.25 337.42L191.54 337.29L192.76 336.85L193.89 336.21L194.95 335.52L195.96 334.88L196.93 334.4L197.93 334.02L197.87 333.58L196.7 333.52L195.49 333.87L194.33 334.41L193.22 334.98L192.18 335.45L191.23 335.71L190.35 335.74L189.46 335.53L188.51 335.11L187.48 334.51L186.37 333.85L185.18 333.27L183.9 332.9L182.57 332.85L181.27 333.16L180.07 333.7L178.96 334.36L177.92 334.99L176.95 335.47L176.05 335.74L175.17 335.77L174.21 335.57L173.17 335.15L172.06 334.6L170.89 334.07L169.69 333.79Z"/>
<path d="M196.21 334.41L197.15 335.06L198.14 335.75L199.18 336.45L200.29 337.06L201.49 337.43L202.74 337.46L203.97 337.13L205.12 336.57L206.18 335.9L207.17 335.28L208.07 334.83L208.88 334.61L209.66 334.62L210.5 334.86L211.46 335.33L212.5 335.93L213.62 336.54L214.83 337.01L216.09 337.21L217.35 337.04L218.52 336.55L219.58 335.86L220.57 335.12L221.5 334.44L222.4 333.92L223.34 333.52L223.26 333.08L222.13 333.06L220.98 333.46L219.88 334.05L218.83 334.68L217.86 335.18L216.97 335.47L216.16 335.52L215.33 335.34L214.42 334.92L213.43 334.33L212.35 333.68L211.19 333.1L209.94 332.74L208.63 332.73L207.38 333.08L206.24 333.68L205.19 334.39L204.22 335.06L203.33 335.58L202.5 335.87L201.68 335.93L200.78 335.74L199.77 335.33L198.69 334.79L197.56 334.26L196.39 333.99Z"/>
<path d="M205.31 330.4L206.3 331.11L207.34 331.86L208.44 332.63L209.61 333.29L210.87 333.71L212.19 333.76L213.5 333.44L214.72 332.86L215.87 332.17L216.94 331.52L217.91 331.05L218.8 330.83L219.64 330.86L220.55 331.15L221.56 331.66L222.67 332.33L223.85 333.01L225.11 333.54L226.44 333.77L227.77 333.61L229.01 333.12L230.16 332.42L231.23 331.65L232.25 330.95L233.22 330.42L234.24 330.02L234.16 329.58L232.97 329.55L231.74 329.96L230.56 330.57L229.43 331.22L228.38 331.75L227.42 332.05L226.54 332.08L225.65 331.87L224.68 331.41L223.62 330.75L222.49 330.03L221.27 329.39L219.96 328.99L218.59 328.95L217.26 329.29L216.04 329.91L214.91 330.64L213.86 331.34L212.88 331.87L211.98 332.17L211.09 332.21L210.12 331.99L209.06 331.52L207.92 330.91L206.73 330.32L205.49 330Z"/>
<path d="M231.17 334.21L232.19 334.86L233.26 335.54L234.38 336.23L235.56 336.81L236.83 337.18L238.14 337.21L239.44 336.92L240.67 336.39L241.82 335.75L242.9 335.16L243.89 334.72L244.81 334.51L245.69 334.53L246.63 334.77L247.67 335.23L248.79 335.82L249.99 336.41L251.26 336.87L252.58 337.06L253.9 336.9L255.14 336.44L256.3 335.79L257.38 335.07L258.41 334.42L259.4 333.92L260.44 333.52L260.36 333.08L259.16 333.04L257.94 333.41L256.75 333.97L255.62 334.56L254.55 335.05L253.57 335.33L252.65 335.37L251.72 335.18L250.73 334.77L249.65 334.19L248.5 333.55L247.27 332.99L245.95 332.64L244.6 332.62L243.28 332.95L242.05 333.51L240.92 334.19L239.86 334.83L238.87 335.33L237.93 335.62L237.01 335.67L236.01 335.49L234.93 335.09L233.78 334.56L232.57 334.04L231.33 333.79Z"/>
<path d="M179.51 343.41L180.5 344.07L181.53 344.75L182.61 345.45L183.76 346.04L184.99 346.41L186.28 346.46L187.55 346.17L188.75 345.65L189.87 345.02L190.92 344.43L191.88 344L192.76 343.8L193.61 343.82L194.51 344.08L195.51 344.54L196.59 345.14L197.75 345.74L198.99 346.21L200.29 346.4L201.58 346.26L202.8 345.8L203.92 345.16L204.97 344.45L205.97 343.8L206.93 343.31L207.94 342.92L207.86 342.48L206.69 342.44L205.49 342.8L204.34 343.35L203.24 343.93L202.2 344.41L201.25 344.68L200.37 344.72L199.48 344.52L198.53 344.1L197.49 343.52L196.37 342.87L195.18 342.3L193.89 341.94L192.56 341.92L191.27 342.23L190.07 342.79L188.96 343.46L187.93 344.1L186.97 344.59L186.07 344.87L185.18 344.91L184.23 344.72L183.18 344.31L182.07 343.78L180.89 343.25L179.69 342.99Z"/>
<path d="M209.12 343.41L210.13 344.05L211.19 344.72L212.29 345.4L213.47 345.98L214.72 346.33L216.02 346.35L217.3 346.05L218.51 345.5L219.64 344.86L220.69 344.25L221.66 343.81L222.56 343.59L223.42 343.6L224.35 343.84L225.37 344.29L226.48 344.87L227.66 345.45L228.92 345.9L230.24 346.07L231.54 345.91L232.76 345.43L233.89 344.77L234.95 344.05L235.95 343.38L236.93 342.87L237.94 342.47L237.86 342.03L236.68 342.01L235.47 342.39L234.3 342.95L233.2 343.55L232.15 344.05L231.19 344.34L230.29 344.39L229.38 344.21L228.4 343.8L227.34 343.23L226.2 342.6L224.98 342.05L223.67 341.72L222.33 341.71L221.03 342.04L219.82 342.62L218.71 343.31L217.67 343.96L216.7 344.47L215.79 344.76L214.89 344.82L213.91 344.65L212.85 344.26L211.7 343.74L210.51 343.23L209.28 342.99Z"/>
<path d="M190.81 359.82L191.92 360.01L193.1 360.2L194.35 360.39L195.61 360.45L196.83 360.24L197.93 359.67L198.81 358.76L199.46 357.67L199.99 356.53L200.48 355.47L200.98 354.64L201.51 354.08L202.12 353.76L202.93 353.61L203.97 353.61L205.17 353.71L206.45 353.78L207.73 353.68L208.94 353.27L209.93 352.5L210.66 351.48L211.18 350.33L211.6 349.17L212.02 348.1L212.48 347.21L213.05 346.42L212.75 346.08L211.8 346.62L211.05 347.56L210.44 348.65L209.91 349.74L209.37 350.68L208.8 351.36L208.19 351.76L207.43 351.95L206.47 351.97L205.32 351.87L204.07 351.74L202.77 351.72L201.5 351.96L200.36 352.58L199.47 353.52L198.83 354.64L198.34 355.8L197.89 356.89L197.43 357.78L196.92 358.42L196.3 358.83L195.46 359.06L194.4 359.12L193.2 359.1L191.94 359.1L190.79 359.38Z"/>
<path d="M216.82 359.82L218 359.97L219.24 360.12L220.55 360.27L221.87 360.28L223.14 360.03L224.29 359.42L225.21 358.48L225.92 357.36L226.51 356.18L227.05 355.09L227.61 354.21L228.2 353.6L228.89 353.23L229.77 353.04L230.87 353.01L232.14 353.06L233.47 353.09L234.81 352.94L236.05 352.49L237.09 351.69L237.87 350.64L238.45 349.45L238.93 348.25L239.4 347.14L239.92 346.2L240.55 345.37L240.25 345.03L239.25 345.6L238.44 346.57L237.78 347.7L237.19 348.83L236.6 349.81L235.98 350.53L235.29 350.99L234.46 351.22L233.43 351.28L232.22 351.22L230.9 351.13L229.55 351.16L228.23 351.44L227.05 352.09L226.12 353.06L225.42 354.21L224.87 355.41L224.37 356.54L223.86 357.48L223.28 358.17L222.58 358.63L221.68 358.89L220.56 359L219.3 359.01L217.99 359.06L216.78 359.38Z"/>
</g>
<g fill="#7ab1da" transform="translate(351.2 -5)">
<path d="M186.61 315.4L187.55 316.08L188.53 316.78L189.57 317.49L190.68 318.11L191.88 318.51L193.14 318.58L194.39 318.31L195.57 317.8L196.67 317.19L197.7 316.63L198.63 316.22L199.48 316.03L200.29 316.07L201.15 316.34L202.11 316.81L203.15 317.43L204.27 318.05L205.47 318.55L206.74 318.77L208.01 318.64L209.2 318.21L210.31 317.58L211.34 316.89L212.32 316.27L213.26 315.79L214.23 315.42L214.17 314.98L213.03 314.92L211.85 315.26L210.71 315.79L209.63 316.35L208.62 316.81L207.7 317.07L206.85 317.09L206.01 316.88L205.09 316.44L204.09 315.84L203.02 315.17L201.86 314.58L200.61 314.2L199.31 314.15L198.03 314.44L196.86 314.98L195.77 315.63L194.76 316.25L193.82 316.72L192.95 316.98L192.1 317.01L191.18 316.81L190.18 316.38L189.1 315.82L187.97 315.28L186.79 315Z"/>
<path d="M213.71 315.61L214.66 316.27L215.65 316.95L216.7 317.65L217.82 318.25L219.02 318.63L220.29 318.68L221.53 318.4L222.7 317.87L223.8 317.25L224.82 316.67L225.75 316.24L226.59 316.05L227.4 316.07L228.27 316.32L229.23 316.79L230.28 317.39L231.41 318L232.62 318.47L233.89 318.68L235.16 318.53L236.35 318.08L237.44 317.44L238.47 316.73L239.44 316.09L240.37 315.6L241.34 315.22L241.26 314.78L240.12 314.73L238.95 315.09L237.82 315.64L236.75 316.22L235.74 316.69L234.83 316.96L233.98 316.99L233.13 316.8L232.21 316.38L231.2 315.79L230.12 315.14L228.96 314.56L227.7 314.2L226.39 314.16L225.12 314.48L223.95 315.03L222.87 315.7L221.87 316.33L220.94 316.82L220.08 317.09L219.23 317.13L218.31 316.94L217.3 316.53L216.21 315.99L215.07 315.46L213.89 315.19Z"/>
<path d="M198.15 320.37L198.85 321.32L199.58 322.33L200.36 323.37L201.24 324.33L202.28 325.09L203.5 325.55L204.8 325.65L206.11 325.48L207.38 325.19L208.55 324.92L209.59 324.78L210.47 324.84L211.23 325.12L211.98 325.65L212.76 326.43L213.57 327.38L214.46 328.36L215.47 329.22L216.64 329.84L217.92 330.1L219.22 330.02L220.49 329.71L221.71 329.33L222.85 328.99L223.91 328.79L224.97 328.72L225.03 328.28L223.94 327.89L222.68 327.89L221.41 328.09L220.17 328.35L219.04 328.52L218.07 328.5L217.25 328.27L216.5 327.81L215.75 327.09L214.97 326.17L214.14 325.17L213.21 324.21L212.11 323.44L210.85 322.99L209.52 322.91L208.2 323.1L206.94 323.44L205.76 323.76L204.7 323.96L203.79 323.96L202.96 323.74L202.14 323.25L201.29 322.5L200.42 321.6L199.5 320.7L198.45 320.03Z"/>
<path d="M224.15 320.37L224.87 321.32L225.62 322.32L226.42 323.35L227.32 324.31L228.38 325.07L229.6 325.51L230.91 325.6L232.23 325.42L233.5 325.12L234.68 324.84L235.73 324.7L236.61 324.75L237.39 325.03L238.15 325.55L238.95 326.33L239.78 327.27L240.69 328.24L241.71 329.1L242.89 329.71L244.18 329.95L245.49 329.86L246.76 329.55L247.99 329.15L249.14 328.8L250.21 328.6L251.27 328.52L251.33 328.08L250.22 327.69L248.96 327.71L247.68 327.92L246.44 328.19L245.3 328.36L244.32 328.35L243.49 328.13L242.72 327.67L241.96 326.96L241.17 326.05L240.32 325.05L239.36 324.1L238.25 323.34L236.98 322.9L235.64 322.82L234.32 323.03L233.05 323.37L231.86 323.71L230.8 323.92L229.87 323.93L229.03 323.7L228.2 323.22L227.34 322.48L226.45 321.59L225.51 320.69L224.45 320.03Z"/>
<path d="M169.51 334.21L170.49 334.88L171.51 335.57L172.58 336.28L173.73 336.89L174.96 337.27L176.24 337.33L177.52 337.06L178.72 336.54L179.85 335.93L180.91 335.35L181.87 334.93L182.75 334.74L183.6 334.77L184.5 335.03L185.49 335.51L186.57 336.12L187.72 336.73L188.96 337.21L190.25 337.42L191.54 337.29L192.76 336.85L193.89 336.21L194.95 335.52L195.96 334.88L196.93 334.4L197.93 334.02L197.87 333.58L196.7 333.52L195.49 333.87L194.33 334.41L193.22 334.98L192.18 335.45L191.23 335.71L190.35 335.74L189.46 335.53L188.51 335.11L187.48 334.51L186.37 333.85L185.18 333.27L183.9 332.9L182.57 332.85L181.27 333.16L180.07 333.7L178.96 334.36L177.92 334.99L176.95 335.47L176.05 335.74L175.17 335.77L174.21 335.57L173.17 335.15L172.06 334.6L170.89 334.07L169.69 333.79Z"/>
<path d="M196.21 334.41L197.15 335.06L198.14 335.75L199.18 336.45L200.29 337.06L201.49 337.43L202.74 337.46L203.97 337.13L205.12 336.57L206.18 335.9L207.17 335.28L208.07 334.83L208.88 334.61L209.66 334.62L210.5 334.86L211.46 335.33L212.5 335.93L213.62 336.54L214.83 337.01L216.09 337.21L217.35 337.04L218.52 336.55L219.58 335.86L220.57 335.12L221.5 334.44L222.4 333.92L223.34 333.52L223.26 333.08L222.13 333.06L220.98 333.46L219.88 334.05L218.83 334.68L217.86 335.18L216.97 335.47L216.16 335.52L215.33 335.34L214.42 334.92L213.43 334.33L212.35 333.68L211.19 333.1L209.94 332.74L208.63 332.73L207.38 333.08L206.24 333.68L205.19 334.39L204.22 335.06L203.33 335.58L202.5 335.87L201.68 335.93L200.78 335.74L199.77 335.33L198.69 334.79L197.56 334.26L196.39 333.99Z"/>
<path d="M205.31 330.4L206.3 331.11L207.34 331.86L208.44 332.63L209.61 333.29L210.87 333.71L212.19 333.76L213.5 333.44L214.72 332.86L215.87 332.17L216.94 331.52L217.91 331.05L218.8 330.83L219.64 330.86L220.55 331.15L221.56 331.66L222.67 332.33L223.85 333.01L225.11 333.54L226.44 333.77L227.77 333.61L229.01 333.12L230.16 332.42L231.23 331.65L232.25 330.95L233.22 330.42L234.24 330.02L234.16 329.58L232.97 329.55L231.74 329.96L230.56 330.57L229.43 331.22L228.38 331.75L227.42 332.05L226.54 332.08L225.65 331.87L224.68 331.41L223.62 330.75L222.49 330.03L221.27 329.39L219.96 328.99L218.59 328.95L217.26 329.29L216.04 329.91L214.91 330.64L213.86 331.34L212.88 331.87L211.98 332.17L211.09 332.21L210.12 331.99L209.06 331.52L207.92 330.91L206.73 330.32L205.49 330Z"/>
<path d="M231.17 334.21L232.19 334.86L233.26 335.54L234.38 336.23L235.56 336.81L236.83 337.18L238.14 337.21L239.44 336.92L240.67 336.39L241.82 335.75L242.9 335.16L243.89 334.72L244.81 334.51L245.69 334.53L246.63 334.77L247.67 335.23L248.79 335.82L249.99 336.41L251.26 336.87L252.58 337.06L253.9 336.9L255.14 336.44L256.3 335.79L257.38 335.07L258.41 334.42L259.4 333.92L260.44 333.52L260.36 333.08L259.16 333.04L257.94 333.41L256.75 333.97L255.62 334.56L254.55 335.05L253.57 335.33L252.65 335.37L251.72 335.18L250.73 334.77L249.65 334.19L248.5 333.55L247.27 332.99L245.95 332.64L244.6 332.62L243.28 332.95L242.05 333.51L240.92 334.19L239.86 334.83L238.87 335.33L237.93 335.62L237.01 335.67L236.01 335.49L234.93 335.09L233.78 334.56L232.57 334.04L231.33 333.79Z"/>
<path d="M179.51 343.41L180.5 344.07L181.53 344.75L182.61 345.45L183.76 346.04L184.99 346.41L186.28 346.46L187.55 346.17L188.75 345.65L189.87 345.02L190.92 344.43L191.88 344L192.76 343.8L193.61 343.82L194.51 344.08L195.51 344.54L196.59 345.14L197.75 345.74L198.99 346.21L200.29 346.4L201.58 346.26L202.8 345.8L203.92 345.16L204.97 344.45L205.97 343.8L206.93 343.31L207.94 342.92L207.86 342.48L206.69 342.44L205.49 342.8L204.34 343.35L203.24 343.93L202.2 344.41L201.25 344.68L200.37 344.72L199.48 344.52L198.53 344.1L197.49 343.52L196.37 342.87L195.18 342.3L193.89 341.94L192.56 341.92L191.27 342.23L190.07 342.79L188.96 343.46L187.93 344.1L186.97 344.59L186.07 344.87L185.18 344.91L184.23 344.72L183.18 344.31L182.07 343.78L180.89 343.25L179.69 342.99Z"/>
<path d="M209.12 343.41L210.13 344.05L211.19 344.72L212.29 345.4L213.47 345.98L214.72 346.33L216.02 346.35L217.3 346.05L218.51 345.5L219.64 344.86L220.69 344.25L221.66 343.81L222.56 343.59L223.42 343.6L224.35 343.84L225.37 344.29L226.48 344.87L227.66 345.45L228.92 345.9L230.24 346.07L231.54 345.91L232.76 345.43L233.89 344.77L234.95 344.05L235.95 343.38L236.93 342.87L237.94 342.47L237.86 342.03L236.68 342.01L235.47 342.39L234.3 342.95L233.2 343.55L232.15 344.05L231.19 344.34L230.29 344.39L229.38 344.21L228.4 343.8L227.34 343.23L226.2 342.6L224.98 342.05L223.67 341.72L222.33 341.71L221.03 342.04L219.82 342.62L218.71 343.31L217.67 343.96L216.7 344.47L215.79 344.76L214.89 344.82L213.91 344.65L212.85 344.26L211.7 343.74L210.51 343.23L209.28 342.99Z"/>
<path d="M190.81 359.82L191.92 360.01L193.1 360.2L194.35 360.39L195.61 360.45L196.83 360.24L197.93 359.67L198.81 358.76L199.46 357.67L199.99 356.53L200.48 355.47L200.98 354.64L201.51 354.08L202.12 353.76L202.93 353.61L203.97 353.61L205.17 353.71L206.45 353.78L207.73 353.68L208.94 353.27L209.93 352.5L210.66 351.48L211.18 350.33L211.6 349.17L212.02 348.1L212.48 347.21L213.05 346.42L212.75 346.08L211.8 346.62L211.05 347.56L210.44 348.65L209.91 349.74L209.37 350.68L208.8 351.36L208.19 351.76L207.43 351.95L206.47 351.97L205.32 351.87L204.07 351.74L202.77 351.72L201.5 351.96L200.36 352.58L199.47 353.52L198.83 354.64L198.34 355.8L197.89 356.89L197.43 357.78L196.92 358.42L196.3 358.83L195.46 359.06L194.4 359.12L193.2 359.1L191.94 359.1L190.79 359.38Z"/>
<path d="M216.82 359.82L218 359.97L219.24 360.12L220.55 360.27L221.87 360.28L223.14 360.03L224.29 359.42L225.21 358.48L225.92 357.36L226.51 356.18L227.05 355.09L227.61 354.21L228.2 353.6L228.89 353.23L229.77 353.04L230.87 353.01L232.14 353.06L233.47 353.09L234.81 352.94L236.05 352.49L237.09 351.69L237.87 350.64L238.45 349.45L238.93 348.25L239.4 347.14L239.92 346.2L240.55 345.37L240.25 345.03L239.25 345.6L238.44 346.57L237.78 347.7L237.19 348.83L236.6 349.81L235.98 350.53L235.29 350.99L234.46 351.22L233.43 351.28L232.22 351.22L230.9 351.13L229.55 351.16L228.23 351.44L227.05 352.09L226.12 353.06L225.42 354.21L224.87 355.41L224.37 356.54L223.86 357.48L223.28 358.17L222.58 358.63L221.68 358.89L220.56 359L219.3 359.01L217.99 359.06L216.78 359.38Z"/>
</g>
<line x1="201.8" y1="369.5" x2="182.49" y2="389.26" stroke="#222" stroke-width="2.1"/>
<polygon points="176.2,395.7 179.54,384.98 186.84,392.11" fill="#222"/>
<line x1="227.9" y1="369.5" x2="248.59" y2="388.6" stroke="#222" stroke-width="2.1"/>
<polygon points="255.2,394.7 244.39,391.66 251.31,384.17" fill="#222"/>
<line x1="371.9" y1="366.1" x2="351.6" y2="386.17" stroke="#222" stroke-width="2.1"/>
<polygon points="345.2,392.5 348.73,381.84 355.9,389.1" fill="#222"/>
<line x1="396.7" y1="366.1" x2="418.45" y2="385.25" stroke="#222" stroke-width="2.1"/>
<polygon points="425.2,391.2 414.32,388.42 421.07,380.76" fill="#222"/>
<line x1="553.2" y1="366.1" x2="532.9" y2="386.17" stroke="#222" stroke-width="2.1"/>
<polygon points="526.5,392.5 530.03,381.84 537.2,389.1" fill="#222"/>
<line x1="578" y1="366.1" x2="599.75" y2="385.25" stroke="#222" stroke-width="2.1"/>
<polygon points="606.5,391.2 595.62,388.42 602.37,380.76" fill="#222"/>
<path d="M146.4 420 V429.3 A32 16 0 0 0 210.4 429.3 V420 A32 16 0 0 0 146.4 420 Z" fill="#e8eef1" stroke="#a9b5c0" stroke-width="0.9"/>
<path d="M147.3 420 A31.1 16 0 0 0 209.5 420 V429 A31.1 15.1 0 0 1 147.3 429 Z" fill="#fbe9ae"/>
<path d="M147.9 429 A30.5 14.5 0 0 0 208.9 429" fill="none" stroke="#f6cf72" stroke-opacity="0.6" stroke-width="1"/>
<ellipse cx="178.4" cy="423.3" rx="30" ry="12.3" fill="#fddf8e"/>
<path d="M148.4 423.3 A30 12.3 0 0 1 208.4 423.3" fill="none" stroke="#f6cf72" stroke-width="1.2"/>
<circle cx="173.5" cy="418.5" r="1.85" fill="#fff" stroke="#b5b5b5" stroke-width="0.7"/>
<circle cx="182.5" cy="419" r="1.85" fill="#fff" stroke="#b5b5b5" stroke-width="0.7"/>
<circle cx="167" cy="424" r="1.85" fill="#fff" stroke="#b5b5b5" stroke-width="0.7"/>
<circle cx="179" cy="426" r="1.85" fill="#fff" stroke="#b5b5b5" stroke-width="0.7"/>
<circle cx="160.5" cy="427" r="1.85" fill="#fff" stroke="#b5b5b5" stroke-width="0.7"/>
<circle cx="187" cy="427" r="1.85" fill="#fff" stroke="#b5b5b5" stroke-width="0.7"/>
<circle cx="194.5" cy="424" r="1.85" fill="#fff" stroke="#b5b5b5" stroke-width="0.7"/>
<circle cx="173.8" cy="430" r="1.85" fill="#fff" stroke="#b5b5b5" stroke-width="0.7"/>
<ellipse cx="178.4" cy="420.3" rx="29.8" ry="14.4" fill="none" stroke="#d6dde2" stroke-width="0.9"/>
<ellipse cx="178.4" cy="420" rx="32" ry="16" fill="none" stroke="#a9b5c0" stroke-width="0.9"/>
<path d="M146.4 420 V429.3 A32 16 0 0 0 210.4 429.3 V420" fill="none" stroke="#a9b5c0" stroke-width="0.9"/>
<circle cx="173" cy="417" r="5.8" fill="none" stroke="#c1272d" stroke-width="1.7"/>
<circle cx="173" cy="430" r="5.8" fill="none" stroke="#c1272d" stroke-width="1.7"/>
<circle cx="196" cy="425" r="5.8" fill="none" stroke="#c1272d" stroke-width="1.7"/>
<path d="M229.8 420 V429.3 A32 16 0 0 0 293.8 429.3 V420 A32 16 0 0 0 229.8 420 Z" fill="#e8eef1" stroke="#a9b5c0" stroke-width="0.9"/>
<path d="M230.7 420 A31.1 16 0 0 0 292.9 420 V429 A31.1 15.1 0 0 1 230.7 429 Z" fill="#fbf3ec"/>
<path d="M231.3 429 A30.5 14.5 0 0 0 292.3 429" fill="none" stroke="#f6e0d2" stroke-opacity="0.6" stroke-width="1"/>
<ellipse cx="261.8" cy="423.3" rx="30" ry="12.3" fill="#fceee4"/>
<path d="M231.8 423.3 A30 12.3 0 0 1 291.8 423.3" fill="none" stroke="#f6e0d2" stroke-width="1.2"/>
<circle cx="260" cy="417" r="1.85" fill="#fff" stroke="#b5b5b5" stroke-width="0.7"/>
<circle cx="266.7" cy="423.3" r="1.85" fill="#fff" stroke="#b5b5b5" stroke-width="0.7"/>
<circle cx="247" cy="426.5" r="1.85" fill="#fff" stroke="#b5b5b5" stroke-width="0.7"/>
<circle cx="276.5" cy="426.8" r="1.85" fill="#fff" stroke="#b5b5b5" stroke-width="0.7"/>
<ellipse cx="261.8" cy="420.3" rx="29.8" ry="14.4" fill="none" stroke="#d6dde2" stroke-width="0.9"/>
<ellipse cx="261.8" cy="420" rx="32" ry="16" fill="none" stroke="#a9b5c0" stroke-width="0.9"/>
<path d="M229.8 420 V429.3 A32 16 0 0 0 293.8 429.3 V420" fill="none" stroke="#a9b5c0" stroke-width="0.9"/>
<circle cx="246.7" cy="425.5" r="5.8" fill="none" stroke="#c1272d" stroke-width="1.7"/>
<circle cx="267" cy="423.7" r="5.8" fill="none" stroke="#c1272d" stroke-width="1.7"/>
<path d="M314 419.5 V428.8 A32 16 0 0 0 378 428.8 V419.5 A32 16 0 0 0 314 419.5 Z" fill="#e8eef1" stroke="#a9b5c0" stroke-width="0.9"/>
<path d="M314.9 419.5 A31.1 16 0 0 0 377.1 419.5 V428.5 A31.1 15.1 0 0 1 314.9 428.5 Z" fill="#fbe9ae"/>
<path d="M315.5 428.5 A30.5 14.5 0 0 0 376.5 428.5" fill="none" stroke="#f6cf72" stroke-opacity="0.6" stroke-width="1"/>
<ellipse cx="346" cy="422.8" rx="30" ry="12.3" fill="#fddf8e"/>
<path d="M316 422.8 A30 12.3 0 0 1 376 422.8" fill="none" stroke="#f6cf72" stroke-width="1.2"/>
<circle cx="341.5" cy="417" r="1.85" fill="#fff" stroke="#b5b5b5" stroke-width="0.7"/>
<circle cx="350.5" cy="418.5" r="1.85" fill="#fff" stroke="#b5b5b5" stroke-width="0.7"/>
<circle cx="335.5" cy="423" r="1.85" fill="#fff" stroke="#b5b5b5" stroke-width="0.7"/>
<circle cx="345.5" cy="425.5" r="1.85" fill="#fff" stroke="#b5b5b5" stroke-width="0.7"/>
<circle cx="328" cy="427" r="1.85" fill="#fff" stroke="#b5b5b5" stroke-width="0.7"/>
<circle cx="356" cy="426.5" r="1.85" fill="#fff" stroke="#b5b5b5" stroke-width="0.7"/>
<circle cx="362" cy="423" r="1.85" fill="#fff" stroke="#b5b5b5" stroke-width="0.7"/>
<circle cx="341.5" cy="429.5" r="1.85" fill="#fff" stroke="#b5b5b5" stroke-width="0.7"/>
<ellipse cx="346" cy="419.8" rx="29.8" ry="14.4" fill="none" stroke="#d6dde2" stroke-width="0.9"/>
<ellipse cx="346" cy="419.5" rx="32" ry="16" fill="none" stroke="#a9b5c0" stroke-width="0.9"/>
<path d="M314 419.5 V428.8 A32 16 0 0 0 378 428.8 V419.5" fill="none" stroke="#a9b5c0" stroke-width="0.9"/>
<circle cx="342.3" cy="416.4" r="5.8" fill="none" stroke="#c1272d" stroke-width="1.7"/>
<circle cx="328" cy="427.2" r="5.8" fill="none" stroke="#c1272d" stroke-width="1.7"/>
<circle cx="353.5" cy="426.3" r="5.8" fill="none" stroke="#c1272d" stroke-width="1.7"/>
<path d="M397.5 419.5 V428.8 A32 16 0 0 0 461.5 428.8 V419.5 A32 16 0 0 0 397.5 419.5 Z" fill="#e8eef1" stroke="#a9b5c0" stroke-width="0.9"/>
<path d="M398.4 419.5 A31.1 16 0 0 0 460.6 419.5 V428.5 A31.1 15.1 0 0 1 398.4 428.5 Z" fill="#fbf3ec"/>
<path d="M399 428.5 A30.5 14.5 0 0 0 460 428.5" fill="none" stroke="#f6e0d2" stroke-opacity="0.6" stroke-width="1"/>
<ellipse cx="429.5" cy="422.8" rx="30" ry="12.3" fill="#fceee4"/>
<path d="M399.5 422.8 A30 12.3 0 0 1 459.5 422.8" fill="none" stroke="#f6e0d2" stroke-width="1.2"/>
<circle cx="427.5" cy="417" r="1.85" fill="#fff" stroke="#b5b5b5" stroke-width="0.7"/>
<circle cx="434.5" cy="423" r="1.85" fill="#fff" stroke="#b5b5b5" stroke-width="0.7"/>
<circle cx="415" cy="426" r="1.85" fill="#fff" stroke="#b5b5b5" stroke-width="0.7"/>
<circle cx="444" cy="426" r="1.85" fill="#fff" stroke="#b5b5b5" stroke-width="0.7"/>
<ellipse cx="429.5" cy="419.8" rx="29.8" ry="14.4" fill="none" stroke="#d6dde2" stroke-width="0.9"/>
<ellipse cx="429.5" cy="419.5" rx="32" ry="16" fill="none" stroke="#a9b5c0" stroke-width="0.9"/>
<path d="M397.5 419.5 V428.8 A32 16 0 0 0 461.5 428.8 V419.5" fill="none" stroke="#a9b5c0" stroke-width="0.9"/>
<circle cx="414.5" cy="425.3" r="5.8" fill="none" stroke="#c1272d" stroke-width="1.7"/>
<circle cx="443.9" cy="425.3" r="5.8" fill="none" stroke="#c1272d" stroke-width="1.7"/>
<path d="M482.8 419.5 V428.8 A32 16 0 0 0 546.8 428.8 V419.5 A32 16 0 0 0 482.8 419.5 Z" fill="#e8eef1" stroke="#a9b5c0" stroke-width="0.9"/>
<path d="M483.7 419.5 A31.1 16 0 0 0 545.9 419.5 V428.5 A31.1 15.1 0 0 1 483.7 428.5 Z" fill="#fbe9ae"/>
<path d="M484.3 428.5 A30.5 14.5 0 0 0 545.3 428.5" fill="none" stroke="#f6cf72" stroke-opacity="0.6" stroke-width="1"/>
<ellipse cx="514.8" cy="422.8" rx="30" ry="12.3" fill="#fddf8e"/>
<path d="M484.8 422.8 A30 12.3 0 0 1 544.8 422.8" fill="none" stroke="#f6cf72" stroke-width="1.2"/>
<circle cx="510" cy="417" r="1.85" fill="#fff" stroke="#b5b5b5" stroke-width="0.7"/>
<circle cx="519" cy="418" r="1.85" fill="#fff" stroke="#b5b5b5" stroke-width="0.7"/>
<circle cx="504" cy="422.5" r="1.85" fill="#fff" stroke="#b5b5b5" stroke-width="0.7"/>
<circle cx="513.5" cy="422.5" r="1.85" fill="#fff" stroke="#b5b5b5" stroke-width="0.7"/>
<circle cx="497" cy="426.5" r="1.85" fill="#fff" stroke="#b5b5b5" stroke-width="0.7"/>
<circle cx="509.5" cy="429" r="1.85" fill="#fff" stroke="#b5b5b5" stroke-width="0.7"/>
<circle cx="522" cy="427" r="1.85" fill="#fff" stroke="#b5b5b5" stroke-width="0.7"/>
<circle cx="530.5" cy="423.5" r="1.85" fill="#fff" stroke="#b5b5b5" stroke-width="0.7"/>
<ellipse cx="514.8" cy="419.8" rx="29.8" ry="14.4" fill="none" stroke="#d6dde2" stroke-width="0.9"/>
<ellipse cx="514.8" cy="419.5" rx="32" ry="16" fill="none" stroke="#a9b5c0" stroke-width="0.9"/>
<path d="M482.8 419.5 V428.8 A32 16 0 0 0 546.8 428.8 V419.5" fill="none" stroke="#a9b5c0" stroke-width="0.9"/>
<circle cx="510" cy="416" r="5.8" fill="none" stroke="#c1272d" stroke-width="1.7"/>
<circle cx="509.5" cy="428.8" r="5.8" fill="none" stroke="#c1272d" stroke-width="1.7"/>
<circle cx="521.5" cy="426" r="5.8" fill="none" stroke="#c1272d" stroke-width="1.7"/>
<path d="M565.5 419.5 V428.8 A32 16 0 0 0 629.5 428.8 V419.5 A32 16 0 0 0 565.5 419.5 Z" fill="#e8eef1" stroke="#a9b5c0" stroke-width="0.9"/>
<path d="M566.4 419.5 A31.1 16 0 0 0 628.6 419.5 V428.5 A31.1 15.1 0 0 1 566.4 428.5 Z" fill="#fbf3ec"/>
<path d="M567 428.5 A30.5 14.5 0 0 0 628 428.5" fill="none" stroke="#f6e0d2" stroke-opacity="0.6" stroke-width="1"/>
<ellipse cx="597.5" cy="422.8" rx="30" ry="12.3" fill="#fceee4"/>
<path d="M567.5 422.8 A30 12.3 0 0 1 627.5 422.8" fill="none" stroke="#f6e0d2" stroke-width="1.2"/>
<circle cx="596" cy="417" r="1.85" fill="#fff" stroke="#b5b5b5" stroke-width="0.7"/>
<circle cx="602.5" cy="423" r="1.85" fill="#fff" stroke="#b5b5b5" stroke-width="0.7"/>
<circle cx="585" cy="425.5" r="1.85" fill="#fff" stroke="#b5b5b5" stroke-width="0.7"/>
<circle cx="612.5" cy="426" r="1.85" fill="#fff" stroke="#b5b5b5" stroke-width="0.7"/>
<ellipse cx="597.5" cy="419.8" rx="29.8" ry="14.4" fill="none" stroke="#d6dde2" stroke-width="0.9"/>
<ellipse cx="597.5" cy="419.5" rx="32" ry="16" fill="none" stroke="#a9b5c0" stroke-width="0.9"/>
<path d="M565.5 419.5 V428.8 A32 16 0 0 0 629.5 428.8 V419.5" fill="none" stroke="#a9b5c0" stroke-width="0.9"/>
<circle cx="584.7" cy="424.5" r="5.8" fill="none" stroke="#c1272d" stroke-width="1.7"/>
<circle cx="602" cy="423.2" r="5.8" fill="none" stroke="#c1272d" stroke-width="1.7"/>
<text x="171.3" y="469.4" font-size="15.7" font-weight="bold" text-anchor="middle">YPD</text>
<text x="261.8" y="469.3" font-size="15.5" font-weight="bold" text-anchor="middle">2-DOG</text>
<text x="344.4" y="469.4" font-size="15.7" font-weight="bold" text-anchor="middle">YPD</text>
<text x="431.6" y="470" font-size="15.5" font-weight="bold" text-anchor="middle">2-DOG</text>
<text x="515.4" y="469.4" font-size="15.7" font-weight="bold" text-anchor="middle">YPD</text>
<text x="598.5" y="469.3" font-size="15.5" font-weight="bold" text-anchor="middle">2-DOG</text>
<text x="168" y="498.8" font-size="15.4">Randomly select colonies following host extraction for sequencing</text>
<text x="649.3" y="111.8" font-size="31.2" class="ttl">Fig 1B</text>
<line x1="732.3" y1="153.3" x2="732.3" y2="397.9" stroke="#000" stroke-width="2.3"/>
<line x1="721.5" y1="154.2" x2="733" y2="154.2" stroke="#000" stroke-width="2.1"/>
<text x="716.3" y="160.7" font-size="15.2" font-weight="bold" text-anchor="end">20</text>
<line x1="721.5" y1="214.7" x2="733" y2="214.7" stroke="#000" stroke-width="2.1"/>
<text x="716.3" y="221.2" font-size="15.2" font-weight="bold" text-anchor="end">15</text>
<line x1="721.5" y1="275.5" x2="733" y2="275.5" stroke="#000" stroke-width="2.1"/>
<text x="716.3" y="282" font-size="15.2" font-weight="bold" text-anchor="end">10</text>
<line x1="721.5" y1="336.4" x2="733" y2="336.4" stroke="#000" stroke-width="2.1"/>
<text x="716.3" y="342.9" font-size="15.2" font-weight="bold" text-anchor="end">5</text>
<line x1="721.5" y1="396.9" x2="733" y2="396.9" stroke="#000" stroke-width="2.1"/>
<text x="716.3" y="403.4" font-size="15.2" font-weight="bold" text-anchor="end">0</text>
<text transform="translate(658.6 256.7) rotate(-90)" text-anchor="middle" font-size="14.75" font-weight="bold">Rel. frequency of LOH</text>
<text transform="translate(677.2 256.6) rotate(-90)" text-anchor="middle" font-size="15.25" font-weight="bold">(rel. to <tspan font-style="italic">in vitro</tspan>)</text>
<path d="M758.3 396.9V322.5H802.6V396.9" fill="#fff" stroke="#000" stroke-width="2.8" stroke-linejoin="miter"/>
<path d="M831.5 396.9V374.9H876.1V396.9" fill="#fff" stroke="#000" stroke-width="2.8" stroke-linejoin="miter"/>
<path d="M904.1 396.9V374.9H949.1V396.9" fill="#fff" stroke="#000" stroke-width="2.8" stroke-linejoin="miter"/>
<line x1="722" y1="396.9" x2="976" y2="396.9" stroke="#000" stroke-width="2"/>
<line x1="722" y1="397.8" x2="976" y2="397.8" stroke="#000" stroke-width="1" stroke-dasharray="1.2 1.2"/>
<line x1="780.4" y1="396.9" x2="780.4" y2="407.3" stroke="#000" stroke-width="2"/>
<line x1="853.7" y1="396.9" x2="853.7" y2="407.3" stroke="#000" stroke-width="2"/>
<line x1="926.7" y1="396.9" x2="926.7" y2="407.3" stroke="#000" stroke-width="2"/>
<line x1="780.4" y1="265.3" x2="780.4" y2="375.4" stroke="#000" stroke-width="1.1"/>
<line x1="767.8" y1="265.3" x2="793" y2="265.3" stroke="#000" stroke-width="1.1"/>
<line x1="767.8" y1="375.4" x2="793" y2="375.4" stroke="#000" stroke-width="1.1"/>
<line x1="853.7" y1="354.1" x2="853.7" y2="392.4" stroke="#000" stroke-width="1.1"/>
<line x1="841" y1="354.1" x2="866.4" y2="354.1" stroke="#000" stroke-width="1.1"/>
<line x1="841" y1="392.4" x2="866.4" y2="392.4" stroke="#000" stroke-width="1.1"/>
<line x1="926.7" y1="354.1" x2="926.7" y2="392.4" stroke="#000" stroke-width="1.1"/>
<line x1="914.7" y1="354.1" x2="938.7" y2="354.1" stroke="#000" stroke-width="1.1"/>
<line x1="914.7" y1="392.4" x2="938.7" y2="392.4" stroke="#000" stroke-width="1.1"/>
<g fill="#18989a" stroke="#1b1b1b" stroke-width="0.6">
<circle cx="780.4" cy="270.7" r="2.85"/>
<circle cx="770.4" cy="278.2" r="2.85"/>
<circle cx="780.4" cy="281.7" r="2.85"/>
<circle cx="780.4" cy="290" r="2.85"/>
<circle cx="780.4" cy="299.6" r="2.85"/>
<circle cx="770.4" cy="307.8" r="2.85"/>
<circle cx="790.5" cy="309.4" r="2.85"/>
<circle cx="780.4" cy="313.6" r="2.85"/>
<circle cx="853.2" cy="318.7" r="2.85"/>
<circle cx="848.1" cy="345" r="2.85"/>
<circle cx="858.8" cy="348.3" r="2.85"/>
<circle cx="853.5" cy="351.3" r="2.85"/>
<circle cx="853.5" cy="358.3" r="2.85"/>
<circle cx="853.5" cy="364.2" r="2.85"/>
<circle cx="848.1" cy="385.6" r="2.85"/>
<circle cx="853.2" cy="388" r="2.85"/>
<circle cx="864.2" cy="391.5" r="2.85"/>
<circle cx="926.7" cy="340.8" r="2.85"/>
<circle cx="926.7" cy="346" r="2.85"/>
<circle cx="926.7" cy="354.4" r="2.85"/>
<circle cx="905" cy="363.5" r="2.85"/>
<circle cx="915.8" cy="363" r="2.85"/>
<circle cx="937.5" cy="368.1" r="2.85"/>
<circle cx="948.6" cy="366.3" r="2.85"/>
<circle cx="926.7" cy="369.3" r="2.85"/>
</g>
<g fill="#f7931e" stroke="#1b1b1b" stroke-width="0.6">
<circle cx="780.4" cy="193.7" r="2.85"/>
<circle cx="780.4" cy="239.2" r="2.85"/>
<circle cx="790.5" cy="288" r="2.85"/>
<circle cx="780.4" cy="338.5" r="2.85"/>
<circle cx="770.4" cy="356.2" r="2.85"/>
<circle cx="790.5" cy="357.4" r="2.85"/>
<circle cx="780.4" cy="360.2" r="2.85"/>
<circle cx="780.4" cy="370.5" r="2.85"/>
<circle cx="780.4" cy="381.2" r="2.85"/>
<circle cx="780.4" cy="391.5" r="2.85"/>
<circle cx="770.4" cy="393.8" r="2.85"/>
<circle cx="790.5" cy="393.3" r="2.85"/>
<circle cx="832" cy="381" r="2.85"/>
<circle cx="837.4" cy="380.6" r="2.85"/>
<circle cx="843" cy="382.8" r="2.85"/>
<circle cx="853.2" cy="382.6" r="2.85"/>
<circle cx="858.8" cy="381" r="2.85"/>
<circle cx="864.2" cy="383.5" r="2.85"/>
<circle cx="869.6" cy="381.4" r="2.85"/>
<circle cx="875" cy="380.8" r="2.85"/>
<circle cx="843" cy="388.2" r="2.85"/>
<circle cx="858.8" cy="386.8" r="2.85"/>
<circle cx="869.6" cy="386.3" r="2.85"/>
<circle cx="937.5" cy="362" r="2.85"/>
<circle cx="937.5" cy="388.7" r="2.85"/>
<circle cx="915.8" cy="391.7" r="2.85"/>
<circle cx="937.5" cy="394" r="2.85"/>
<circle cx="905" cy="396.4" r="2.85"/>
<circle cx="926.7" cy="395" r="2.85"/>
<circle cx="948.6" cy="396.8" r="2.85"/>
</g>
<line x1="762" y1="165.6" x2="940" y2="165.6" stroke="#000" stroke-width="1.5"/>
<text x="844.8" y="157.5" font-size="17.5" font-weight="bold" text-anchor="middle">**</text>
<line x1="762" y1="210.6" x2="848.8" y2="210.6" stroke="#000" stroke-width="1.5"/>
<text x="804" y="206" font-size="17.5" font-weight="bold" text-anchor="middle">**</text>
<line x1="848.8" y1="287.5" x2="934.7" y2="287.5" stroke="#000" stroke-width="1.5"/>
<text x="891" y="277" font-size="15" font-weight="bold" text-anchor="middle">ns</text>
<g fill="#18989a" stroke="#1b1b1b" stroke-width="0.7">
<circle cx="886.8" cy="199.6" r="5"/>
</g>
<g fill="#f7931e" stroke="#1b1b1b" stroke-width="0.7">
<circle cx="886.8" cy="222.9" r="5"/>
</g>
<text x="902.2" y="203.6" font-size="13.9">Lab</text>
<text x="902.2" y="227.5" font-size="13.9">Bloodstream</text>
<text x="780" y="426.8" font-size="15" font-weight="bold" text-anchor="middle">N2</text>
<text x="849.3" y="426.8" font-size="15" font-weight="bold" font-style="italic" text-anchor="middle">sek-1</text>
<text x="923.6" y="426.8" font-size="15" font-weight="bold" font-style="italic" text-anchor="middle">bli-3</text>
<text x="104.3" y="565.8" font-size="31.2" class="ttl">Fig 3B</text>
<line x1="231.6" y1="622.4" x2="231.6" y2="872.6" stroke="#000" stroke-width="1.3"/>
<line x1="223.6" y1="623" x2="231.6" y2="623" stroke="#000" stroke-width="1.3"/>
<text x="216.9" y="626.9" font-size="11" font-weight="bold" text-anchor="end">80</text>
<line x1="223.6" y1="685.5" x2="231.6" y2="685.5" stroke="#000" stroke-width="1.3"/>
<text x="216.9" y="689.4" font-size="11" font-weight="bold" text-anchor="end">60</text>
<line x1="223.6" y1="748" x2="231.6" y2="748" stroke="#000" stroke-width="1.3"/>
<text x="216.9" y="751.9" font-size="11" font-weight="bold" text-anchor="end">40</text>
<line x1="223.6" y1="810.5" x2="231.6" y2="810.5" stroke="#000" stroke-width="1.3"/>
<text x="216.9" y="814.4" font-size="11" font-weight="bold" text-anchor="end">20</text>
<line x1="221.9" y1="873.4" x2="231.6" y2="873.4" stroke="#000" stroke-width="1.5"/>
<text x="220.6" y="877.4" font-size="11" font-weight="bold" text-anchor="end">0</text>
<text transform="translate(184.8 733) rotate(-90)" text-anchor="middle" font-size="10.9" font-weight="bold">Number of Indels (x100)</text>
<path d="M249.3 872.6V659.8H280.1V872.6" fill="#a8a8a6" stroke="#000" stroke-width="2.2" stroke-linejoin="miter"/>
<path d="M299.9 872.6V644.8H330.7V872.6" fill="#00f700" stroke="#000" stroke-width="2.2" stroke-linejoin="miter"/>
<path d="M350.4 872.6V685.3H381.3V872.6" fill="#05fcfe" stroke="#000" stroke-width="2.2" stroke-linejoin="miter"/>
<line x1="231" y1="872.6" x2="399.8" y2="872.6" stroke="#000" stroke-width="2.2"/>
<line x1="264.8" y1="872.6" x2="264.8" y2="880.2" stroke="#000" stroke-width="1.3"/>
<line x1="315.3" y1="872.6" x2="315.3" y2="880.2" stroke="#000" stroke-width="1.3"/>
<line x1="365.9" y1="872.6" x2="365.9" y2="880.2" stroke="#000" stroke-width="1.3"/>
<line x1="264.6" y1="637.3" x2="264.6" y2="680" stroke="#222" stroke-width="1"/>
<line x1="256.5" y1="637.3" x2="272.7" y2="637.3" stroke="#222" stroke-width="1"/>
<line x1="256.5" y1="680" x2="272.7" y2="680" stroke="#222" stroke-width="1"/>
<line x1="315.4" y1="632" x2="315.4" y2="655.3" stroke="#222" stroke-width="1"/>
<line x1="307.9" y1="632" x2="322.9" y2="632" stroke="#222" stroke-width="1"/>
<line x1="307.9" y1="655.3" x2="322.9" y2="655.3" stroke="#222" stroke-width="1"/>
<line x1="365.8" y1="663.3" x2="365.8" y2="704.5" stroke="#222" stroke-width="1"/>
<line x1="357.4" y1="663.3" x2="374.2" y2="663.3" stroke="#222" stroke-width="1"/>
<line x1="357.4" y1="704.5" x2="374.2" y2="704.5" stroke="#222" stroke-width="1"/>
<g fill="#fff" stroke="#3a3a3a" stroke-width="0.6">
<circle cx="258" cy="644.3" r="1.65"/>
<circle cx="261.3" cy="641.3" r="1.65"/>
<circle cx="268" cy="641.3" r="1.65"/>
<circle cx="271.7" cy="644.3" r="1.65"/>
<circle cx="264.6" cy="647" r="1.65"/>
<circle cx="264.6" cy="655.3" r="1.65"/>
<circle cx="264.6" cy="664" r="1.65"/>
<circle cx="271.5" cy="669.3" r="1.65"/>
<circle cx="264.6" cy="672.5" r="1.65"/>
<circle cx="264.6" cy="709.8" r="1.65"/>
<circle cx="308.3" cy="631.5" r="1.65"/>
<circle cx="315.4" cy="634.3" r="1.65"/>
<circle cx="321.8" cy="634.5" r="1.65"/>
<circle cx="315.4" cy="638" r="1.65"/>
<circle cx="312.3" cy="644.8" r="1.65"/>
<circle cx="318.8" cy="643.3" r="1.65"/>
<circle cx="315.4" cy="658.3" r="1.65"/>
<circle cx="315.4" cy="663.5" r="1.65"/>
<circle cx="365.8" cy="654" r="1.65"/>
<circle cx="362" cy="689.5" r="1.65"/>
<circle cx="369" cy="692" r="1.65"/>
<circle cx="365.8" cy="701" r="1.65"/>
</g>
<line x1="256.3" y1="560.2" x2="363" y2="560.2" stroke="#2a2a2a" stroke-width="1.3"/>
<text x="310.9" y="552.7" font-size="10.8" text-anchor="middle" class="sb">ns</text>
<line x1="315" y1="591.2" x2="364" y2="591.2" stroke="#2a2a2a" stroke-width="1.3"/>
<text x="337.6" y="588.5" font-size="19" font-weight="bold" text-anchor="middle">*</text>
<line x1="256.8" y1="613.6" x2="312.5" y2="613.6" stroke="#2a2a2a" stroke-width="1.3"/>
<text x="279.9" y="607.9" font-size="10.8" text-anchor="middle" class="sb">ns</text>
<text x="269.3" y="892.9" font-size="10.4" font-weight="bold" text-anchor="middle">N2</text>
<text x="320.2" y="894" font-size="12" font-weight="bold" text-anchor="middle">sek-1</text>
<text x="369.6" y="892.9" font-size="10.8" font-weight="bold" text-anchor="middle">bli-3</text>
<text x="480.3" y="565.8" font-size="31.2" class="ttl">Fig 4A</text>
<line x1="514" y1="607.5" x2="514" y2="830" stroke="#231f20" stroke-width="1.7"/>
<line x1="505.2" y1="608.4" x2="514" y2="608.4" stroke="#231f20" stroke-width="1.6"/>
<text x="499.8" y="614.8" font-size="13.4" font-weight="bold" text-anchor="end" class="dg">100</text>
<line x1="505.2" y1="653" x2="514" y2="653" stroke="#231f20" stroke-width="1.6"/>
<text x="499.8" y="659.4" font-size="13.4" font-weight="bold" text-anchor="end" class="dg">80</text>
<line x1="505.2" y1="697.2" x2="514" y2="697.2" stroke="#231f20" stroke-width="1.6"/>
<text x="499.8" y="703.6" font-size="13.4" font-weight="bold" text-anchor="end" class="dg">60</text>
<line x1="505.2" y1="741.5" x2="514" y2="741.5" stroke="#231f20" stroke-width="1.6"/>
<text x="499.8" y="747.9" font-size="13.4" font-weight="bold" text-anchor="end" class="dg">40</text>
<line x1="505.2" y1="785.8" x2="514" y2="785.8" stroke="#231f20" stroke-width="1.6"/>
<text x="499.8" y="792.2" font-size="13.4" font-weight="bold" text-anchor="end" class="dg">20</text>
<line x1="505.2" y1="830" x2="514" y2="830" stroke="#231f20" stroke-width="1.6"/>
<text x="499.8" y="836.4" font-size="13.4" font-weight="bold" text-anchor="end" class="dg">0</text>
<text transform="translate(453.9 726.6) rotate(-90)" text-anchor="middle" font-size="13.4" font-weight="bold" class="dg">Rel. frequency of LOH</text>
<text transform="translate(469.7 727.1) rotate(-90)" text-anchor="middle" font-size="13.8" font-weight="bold" class="dg">(rel. to no stress)</text>
<path d="M535.25 830V798.05H572.45V830" fill="#b0b1b1" stroke="#231f20" stroke-width="2.5" stroke-linejoin="miter"/>
<path d="M595.95 830V735.45H632.85V830" fill="#f7962f" stroke="#231f20" stroke-width="2.5" stroke-linejoin="miter"/>
<line x1="505" y1="830" x2="654.5" y2="830" stroke="#231f20" stroke-width="1.6"/>
<line x1="553.7" y1="830" x2="553.7" y2="839.6" stroke="#231f20" stroke-width="1.6"/>
<line x1="614.4" y1="830" x2="614.4" y2="839.6" stroke="#231f20" stroke-width="1.6"/>
<line x1="553.7" y1="772.2" x2="553.7" y2="821.6" stroke="#231f20" stroke-width="1"/>
<line x1="543.5" y1="772.2" x2="563.9" y2="772.2" stroke="#231f20" stroke-width="1"/>
<line x1="543.5" y1="821.6" x2="563.9" y2="821.6" stroke="#231f20" stroke-width="1"/>
<line x1="614.4" y1="646.9" x2="614.4" y2="820.6" stroke="#231f20" stroke-width="1"/>
<line x1="604.2" y1="646.9" x2="624.6" y2="646.9" stroke="#231f20" stroke-width="1"/>
<line x1="604.2" y1="820.6" x2="624.6" y2="820.6" stroke="#231f20" stroke-width="1"/>
<g fill="#fff" stroke="#4a4a4a" stroke-width="0.7">
<circle cx="553.7" cy="729.2" r="2.25"/>
<circle cx="549.5" cy="788.3" r="2.25"/>
<circle cx="558.2" cy="786.7" r="2.25"/>
<circle cx="545.3" cy="793.8" r="2.25"/>
<circle cx="553.7" cy="795.4" r="2.25"/>
<circle cx="562.4" cy="797.4" r="2.25"/>
<circle cx="545.3" cy="801.3" r="2.25"/>
<circle cx="553.7" cy="801.3" r="2.25"/>
<circle cx="553.7" cy="810" r="2.25"/>
<circle cx="562.4" cy="813.2" r="2.25"/>
<circle cx="553.7" cy="817.4" r="2.25"/>
<circle cx="553.7" cy="829.4" r="2.25"/>
<circle cx="614.4" cy="644.6" r="2.25"/>
<circle cx="614.4" cy="652.4" r="2.25"/>
<circle cx="614.4" cy="677.5" r="2.25"/>
<circle cx="614.4" cy="696.3" r="2.25"/>
<circle cx="614.4" cy="733.4" r="2.25"/>
<circle cx="614.4" cy="757.6" r="2.25"/>
<circle cx="606" cy="772.8" r="2.25"/>
<circle cx="614.4" cy="772.8" r="2.25"/>
<circle cx="622.8" cy="770.6" r="2.25"/>
<circle cx="606" cy="779" r="2.25"/>
<circle cx="614.4" cy="783.5" r="2.25"/>
<circle cx="606" cy="797.4" r="2.25"/>
<circle cx="622.8" cy="796.7" r="2.25"/>
<circle cx="614.4" cy="801.6" r="2.25"/>
<circle cx="614.4" cy="808.7" r="2.25"/>
<circle cx="606" cy="811.9" r="2.25"/>
<circle cx="622.8" cy="811.3" r="2.25"/>
</g>
<line x1="546.9" y1="611" x2="618" y2="611" stroke="#231f20" stroke-width="1.15"/>
<text x="581.8" y="609.5" font-size="12.5" font-weight="bold" text-anchor="middle" class="dg">**</text>
<text x="554.3" y="856.9" font-size="13.3" font-weight="bold" text-anchor="middle" class="dg">SC5314</text>
<text x="592.9" y="856.9" font-size="13.2" class="dg"><tspan font-weight="bold" font-style="italic">cap1</tspan> <tspan font-family="'Liberation Serif',serif" font-size="14.2">Δ</tspan><tspan font-weight="bold" font-style="italic">/</tspan><tspan font-family="'Liberation Serif',serif" font-size="14.2">Δ</tspan></text>
<text x="688.3" y="565.8" font-size="31.2" class="ttl">Fig 4B</text>
<line x1="755.1" y1="598.6" x2="755.1" y2="828.6" stroke="#231f20" stroke-width="1.7"/>
<line x1="746.3" y1="599.4" x2="755" y2="599.4" stroke="#231f20" stroke-width="1.6"/>
<text x="741.8" y="604.6" font-size="13.4" font-weight="bold" text-anchor="end" class="dg">50</text>
<line x1="746.3" y1="645" x2="755" y2="645" stroke="#231f20" stroke-width="1.6"/>
<text x="741.8" y="650.2" font-size="13.4" font-weight="bold" text-anchor="end" class="dg">40</text>
<line x1="746.3" y1="690.8" x2="755" y2="690.8" stroke="#231f20" stroke-width="1.6"/>
<text x="741.8" y="696" font-size="13.4" font-weight="bold" text-anchor="end" class="dg">30</text>
<line x1="746.3" y1="736.7" x2="755" y2="736.7" stroke="#231f20" stroke-width="1.6"/>
<text x="741.8" y="741.9" font-size="13.4" font-weight="bold" text-anchor="end" class="dg">20</text>
<line x1="746.3" y1="782.9" x2="755" y2="782.9" stroke="#231f20" stroke-width="1.6"/>
<text x="741.8" y="788.1" font-size="13.4" font-weight="bold" text-anchor="end" class="dg">10</text>
<line x1="746.3" y1="828.6" x2="755" y2="828.6" stroke="#231f20" stroke-width="1.6"/>
<text x="741.8" y="833.8" font-size="13.4" font-weight="bold" text-anchor="end" class="dg">0</text>
<line x1="750" y1="622.32" x2="755" y2="622.32" stroke="#231f20" stroke-width="1.5"/>
<line x1="750" y1="668.16" x2="755" y2="668.16" stroke="#231f20" stroke-width="1.5"/>
<line x1="750" y1="714" x2="755" y2="714" stroke="#231f20" stroke-width="1.5"/>
<line x1="750" y1="759.84" x2="755" y2="759.84" stroke="#231f20" stroke-width="1.5"/>
<line x1="750" y1="805.68" x2="755" y2="805.68" stroke="#231f20" stroke-width="1.5"/>
<text transform="translate(696 708.4) rotate(-90)" text-anchor="middle" font-size="13.3" font-weight="bold" class="dg">Rel. frequency of LOH</text>
<text transform="translate(712.2 708.4) rotate(-90)" text-anchor="middle" font-size="13.9" font-weight="bold" class="dg">(rel. to <tspan font-style="italic">in vitro</tspan>)</text>
<path d="M768.23 828.6V791.02H787.48V828.6" fill="#939598" stroke="#231f20" stroke-width="2.45" stroke-linejoin="miter"/>
<path d="M802.23 828.6V688.83H821.48V828.6" fill="#f7962f" stroke="#231f20" stroke-width="2.45" stroke-linejoin="miter"/>
<path d="M858.23 828.6V816.43H877.17V828.6" fill="#939598" stroke="#231f20" stroke-width="2.45" stroke-linejoin="miter"/>
<path d="M891.93 828.6V772.23H911.07V828.6" fill="#f7962f" stroke="#231f20" stroke-width="2.45" stroke-linejoin="miter"/>
<path d="M948.33 828.6V815.52H967.27V828.6" fill="#939598" stroke="#231f20" stroke-width="2.45" stroke-linejoin="miter"/>
<path d="M981.43 828.6V812.93H1000.48V828.6" fill="#f7962f" stroke="#231f20" stroke-width="2.45" stroke-linejoin="miter"/>
<line x1="746" y1="828.5" x2="1014.4" y2="828.5" stroke="#231f20" stroke-width="1.8"/>
<line x1="794.2" y1="828.6" x2="794.2" y2="837.6" stroke="#231f20" stroke-width="1.6"/>
<line x1="884.2" y1="828.6" x2="884.2" y2="837.6" stroke="#231f20" stroke-width="1.6"/>
<line x1="973.9" y1="828.6" x2="973.9" y2="837.6" stroke="#231f20" stroke-width="1.6"/>
<line x1="777.9" y1="787.3" x2="777.9" y2="791" stroke="#231f20" stroke-width="1"/>
<line x1="772.2" y1="787.3" x2="783.6" y2="787.3" stroke="#231f20" stroke-width="1"/>
<line x1="772.2" y1="791" x2="783.6" y2="791" stroke="#231f20" stroke-width="1"/>
<line x1="811.5" y1="647.5" x2="811.5" y2="725.4" stroke="#231f20" stroke-width="1"/>
<line x1="805.8" y1="647.5" x2="817.2" y2="647.5" stroke="#231f20" stroke-width="1"/>
<line x1="805.8" y1="725.4" x2="817.2" y2="725.4" stroke="#231f20" stroke-width="1"/>
<line x1="867.5" y1="811.9" x2="867.5" y2="816" stroke="#231f20" stroke-width="1"/>
<line x1="861.8" y1="811.9" x2="873.2" y2="811.9" stroke="#231f20" stroke-width="1"/>
<line x1="861.8" y1="816" x2="873.2" y2="816" stroke="#231f20" stroke-width="1"/>
<line x1="901.4" y1="746" x2="901.4" y2="794.1" stroke="#231f20" stroke-width="1"/>
<line x1="895.7" y1="746" x2="907.1" y2="746" stroke="#231f20" stroke-width="1"/>
<line x1="895.7" y1="794.1" x2="907.1" y2="794.1" stroke="#231f20" stroke-width="1"/>
<line x1="957.7" y1="812" x2="957.7" y2="815.5" stroke="#231f20" stroke-width="1"/>
<line x1="952" y1="812" x2="963.4" y2="812" stroke="#231f20" stroke-width="1"/>
<line x1="952" y1="815.5" x2="963.4" y2="815.5" stroke="#231f20" stroke-width="1"/>
<line x1="991" y1="808.8" x2="991" y2="812.5" stroke="#231f20" stroke-width="1"/>
<line x1="985.3" y1="808.8" x2="996.7" y2="808.8" stroke="#231f20" stroke-width="1"/>
<line x1="985.3" y1="812.5" x2="996.7" y2="812.5" stroke="#231f20" stroke-width="1"/>
<g fill="#fff" stroke="#4a4a4a" stroke-width="0.7">
<circle cx="768.7" cy="785" r="2.25"/>
<circle cx="777.7" cy="783.7" r="2.25"/>
<circle cx="787" cy="780.7" r="2.25"/>
<circle cx="787" cy="788" r="2.25"/>
<circle cx="768.7" cy="791.7" r="2.25"/>
<circle cx="777.7" cy="795" r="2.25"/>
<circle cx="787" cy="795.3" r="2.25"/>
<circle cx="768.7" cy="797" r="2.25"/>
<circle cx="811.5" cy="673.7" r="2.25"/>
<circle cx="811.5" cy="684" r="2.25"/>
<circle cx="807.3" cy="709.2" r="2.25"/>
<circle cx="816" cy="711.8" r="2.25"/>
<circle cx="811.5" cy="748" r="2.25"/>
<circle cx="807.3" cy="768.4" r="2.25"/>
<circle cx="816" cy="768.4" r="2.25"/>
<circle cx="867.4" cy="799" r="2.25"/>
<circle cx="858.6" cy="811.3" r="2.25"/>
<circle cx="867.4" cy="810" r="2.25"/>
<circle cx="876.6" cy="809" r="2.25"/>
<circle cx="876.6" cy="814" r="2.25"/>
<circle cx="867.4" cy="816.3" r="2.25"/>
<circle cx="867.4" cy="824" r="2.25"/>
<circle cx="858.6" cy="826" r="2.25"/>
<circle cx="876.6" cy="825" r="2.25"/>
<circle cx="901.4" cy="622.6" r="2.25"/>
<circle cx="901.4" cy="729.2" r="2.25"/>
<circle cx="901.4" cy="756" r="2.25"/>
<circle cx="897" cy="802" r="2.25"/>
<circle cx="905.7" cy="802" r="2.25"/>
<circle cx="901.3" cy="808.4" r="2.25"/>
<circle cx="897" cy="823" r="2.25"/>
<circle cx="905.7" cy="820.4" r="2.25"/>
<circle cx="957.5" cy="807.1" r="2.25"/>
<circle cx="952.7" cy="809.3" r="2.25"/>
<circle cx="957.5" cy="812.1" r="2.25"/>
<circle cx="952.9" cy="816" r="2.25"/>
<circle cx="957.5" cy="816.7" r="2.25"/>
<circle cx="962.1" cy="816" r="2.25"/>
<circle cx="948.5" cy="817.5" r="2.25"/>
<circle cx="966.7" cy="817.9" r="2.25"/>
<circle cx="991" cy="802.3" r="2.25"/>
<circle cx="981.8" cy="809.3" r="2.25"/>
<circle cx="988.1" cy="808.75" r="2.25"/>
<circle cx="1000.25" cy="809.3" r="2.25"/>
<circle cx="994" cy="812.3" r="2.25"/>
<circle cx="988.1" cy="814.2" r="2.25"/>
<circle cx="994" cy="817.25" r="2.25"/>
<circle cx="988.1" cy="820.6" r="2.25"/>
</g>
<line x1="772" y1="638.9" x2="809.2" y2="638.9" stroke="#231f20" stroke-width="1.3"/>
<text x="789.4" y="632.8" font-size="14" font-weight="bold" text-anchor="middle" class="dg">***</text>
<line x1="861" y1="706.1" x2="898.8" y2="706.1" stroke="#231f20" stroke-width="1.3"/>
<text x="879.7" y="699.5" font-size="12.5" font-weight="bold" text-anchor="middle" class="dg">*</text>
<line x1="954.7" y1="748.3" x2="994.4" y2="748.3" stroke="#231f20" stroke-width="1.3"/>
<text x="972.4" y="740.5" font-size="11.5" font-weight="bold" text-anchor="middle" class="dg">ns</text>
<rect x="990.9" y="652.8" width="15.2" height="15.3" fill="#808285" stroke="#4d4d4f" stroke-width="1.3"/>
<rect x="990.9" y="678.6" width="15.2" height="15.3" fill="#f7962f" stroke="#4d4d4f" stroke-width="1.3"/>
<text x="1013.6" y="664.8" font-size="13.3" font-weight="bold" class="dg">SC5314</text>
<text x="1013.8" y="689.8" font-size="13.2" class="dg"><tspan font-weight="bold" font-style="italic">cap1</tspan><tspan font-family="'Liberation Serif',serif" font-size="14.5" dx="1.5">Δ<tspan font-style="italic">/</tspan>Δ</tspan></text>
<text x="793" y="857.2" font-size="13.1" font-weight="bold" text-anchor="middle" class="dg">N2</text>
<text x="885.2" y="857.2" font-size="13" font-weight="bold" text-anchor="middle" class="dg">sek-1</text>
<text x="977" y="857.2" font-size="13" font-weight="bold" text-anchor="middle" class="dg">bli-3</text>
</svg>
</body></html>
